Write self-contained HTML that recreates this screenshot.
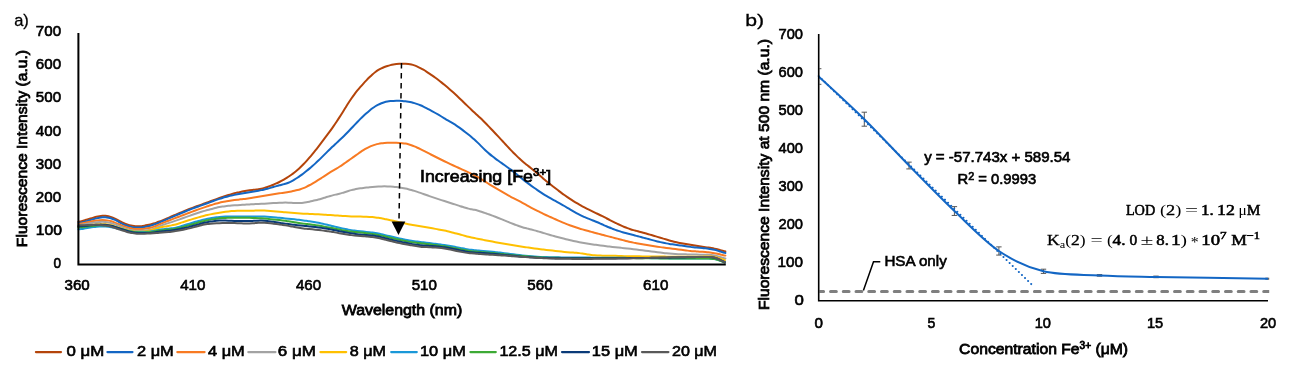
<!DOCTYPE html><html><head><meta charset="utf-8"><style>html,body{margin:0;padding:0;background:#fff;overflow:hidden;}svg{display:block;will-change:transform;}</style></head><body>
<svg xmlns="http://www.w3.org/2000/svg" width="1292" height="372" viewBox="0 0 1292 372">
<rect width="1292" height="372" fill="#fff"/>
<g fill="none" stroke-width="2" stroke-linejoin="round" stroke-linecap="round">
<path d="M78.40 221.78 C78.90 221.68 80.40 221.41 81.40 221.18 C82.40 220.94 83.40 220.65 84.40 220.37 C85.40 220.08 86.40 219.77 87.40 219.47 C88.40 219.17 89.40 218.87 90.40 218.56 C91.40 218.26 92.40 217.95 93.40 217.65 C94.40 217.36 95.40 217.06 96.40 216.80 C97.40 216.54 98.40 216.29 99.40 216.11 C100.40 215.93 101.40 215.79 102.40 215.73 C103.40 215.67 104.40 215.68 105.40 215.76 C106.40 215.85 107.40 216.00 108.40 216.22 C109.40 216.45 110.40 216.74 111.40 217.09 C112.40 217.44 113.40 217.87 114.40 218.33 C115.40 218.79 116.40 219.32 117.40 219.84 C118.40 220.36 119.40 220.94 120.40 221.45 C121.40 221.97 122.40 222.49 123.40 222.95 C124.40 223.41 125.40 223.84 126.40 224.21 C127.40 224.57 128.40 224.89 129.40 225.16 C130.40 225.43 131.40 225.66 132.40 225.83 C133.40 226.00 134.40 226.13 135.40 226.21 C136.40 226.29 137.40 226.32 138.40 226.30 C139.40 226.29 140.40 226.23 141.40 226.13 C142.40 226.03 143.40 225.88 144.40 225.71 C145.40 225.53 146.40 225.32 147.40 225.10 C148.40 224.87 149.40 224.63 150.40 224.37 C151.40 224.11 152.40 223.84 153.40 223.55 C154.40 223.25 155.40 222.95 156.40 222.61 C157.40 222.28 158.40 221.92 159.40 221.55 C160.40 221.17 161.40 220.77 162.40 220.37 C163.40 219.96 164.40 219.54 165.40 219.12 C166.40 218.69 167.40 218.26 168.40 217.83 C169.40 217.41 170.40 216.97 171.40 216.54 C172.40 216.12 173.40 215.69 174.40 215.26 C175.40 214.83 176.40 214.40 177.40 213.97 C178.40 213.55 179.40 213.12 180.40 212.69 C181.40 212.27 182.40 211.84 183.40 211.42 C184.40 211.00 185.40 210.59 186.40 210.18 C187.40 209.77 188.40 209.37 189.40 208.97 C190.40 208.58 191.40 208.20 192.40 207.82 C193.40 207.45 194.40 207.08 195.40 206.72 C196.40 206.35 197.40 206.00 198.40 205.64 C199.40 205.28 200.40 204.93 201.40 204.57 C202.40 204.22 203.40 203.86 204.40 203.50 C205.40 203.14 206.40 202.77 207.40 202.40 C208.40 202.04 209.40 201.66 210.40 201.29 C211.40 200.92 212.40 200.55 213.40 200.18 C214.40 199.82 215.40 199.45 216.40 199.09 C217.40 198.73 218.40 198.38 219.40 198.03 C220.40 197.68 221.40 197.34 222.40 197.00 C223.40 196.66 224.40 196.33 225.40 196.00 C226.40 195.67 227.40 195.35 228.40 195.04 C229.40 194.73 230.40 194.43 231.40 194.14 C232.40 193.85 233.40 193.58 234.40 193.32 C235.40 193.06 236.40 192.82 237.40 192.59 C238.40 192.35 239.40 192.14 240.40 191.93 C241.40 191.73 242.40 191.53 243.40 191.35 C244.40 191.16 245.40 190.98 246.40 190.82 C247.40 190.66 248.40 190.50 249.40 190.36 C250.40 190.23 251.40 190.11 252.40 189.99 C253.40 189.88 254.40 189.79 255.40 189.67 C256.40 189.55 257.40 189.44 258.40 189.28 C259.40 189.11 260.40 188.92 261.40 188.69 C262.40 188.46 263.40 188.18 264.40 187.89 C265.40 187.60 266.40 187.27 267.40 186.93 C268.40 186.60 269.40 186.24 270.40 185.87 C271.40 185.50 272.40 185.12 273.40 184.71 C274.40 184.30 275.40 183.88 276.40 183.43 C277.40 182.98 278.40 182.50 279.40 182.00 C280.40 181.50 281.40 180.97 282.40 180.41 C283.40 179.86 284.40 179.28 285.40 178.68 C286.40 178.07 287.40 177.45 288.40 176.79 C289.40 176.14 290.40 175.46 291.40 174.75 C292.40 174.04 293.40 173.30 294.40 172.52 C295.40 171.73 296.40 170.91 297.40 170.04 C298.40 169.17 299.40 168.25 300.40 167.29 C301.40 166.33 302.40 165.33 303.40 164.29 C304.40 163.26 305.40 162.18 306.40 161.08 C307.40 159.97 308.40 158.83 309.40 157.66 C310.40 156.50 311.40 155.30 312.40 154.08 C313.40 152.87 314.40 151.63 315.40 150.37 C316.40 149.12 317.40 147.85 318.40 146.56 C319.40 145.28 320.40 143.98 321.40 142.66 C322.40 141.35 323.40 140.02 324.40 138.68 C325.40 137.35 326.40 136.00 327.40 134.64 C328.40 133.28 329.40 131.92 330.40 130.54 C331.40 129.16 332.40 127.77 333.40 126.34 C334.40 124.91 335.40 123.46 336.40 121.98 C337.40 120.49 338.40 118.96 339.40 117.41 C340.40 115.86 341.40 114.26 342.40 112.67 C343.40 111.07 344.40 109.44 345.40 107.84 C346.40 106.24 347.40 104.62 348.40 103.07 C349.40 101.52 350.40 99.99 351.40 98.53 C352.40 97.07 353.40 95.67 354.40 94.33 C355.40 92.99 356.40 91.73 357.40 90.49 C358.40 89.26 359.40 88.09 360.40 86.94 C361.40 85.78 362.40 84.68 363.40 83.58 C364.40 82.49 365.40 81.42 366.40 80.37 C367.40 79.32 368.40 78.28 369.40 77.29 C370.40 76.30 371.40 75.31 372.40 74.42 C373.40 73.53 374.40 72.68 375.40 71.93 C376.40 71.18 377.40 70.52 378.40 69.92 C379.40 69.32 380.40 68.81 381.40 68.33 C382.40 67.85 383.40 67.43 384.40 67.03 C385.40 66.63 386.40 66.28 387.40 65.96 C388.40 65.63 389.40 65.35 390.40 65.10 C391.40 64.84 392.40 64.63 393.40 64.45 C394.40 64.27 395.40 64.13 396.40 64.02 C397.40 63.91 398.40 63.84 399.40 63.78 C400.40 63.73 401.40 63.71 402.40 63.71 C403.40 63.71 404.40 63.72 405.40 63.77 C406.40 63.81 407.40 63.88 408.40 64.00 C409.40 64.12 410.40 64.27 411.40 64.49 C412.40 64.71 413.40 64.99 414.40 65.33 C415.40 65.67 416.40 66.09 417.40 66.54 C418.40 66.98 419.40 67.49 420.40 68.02 C421.40 68.55 422.40 69.13 423.40 69.72 C424.40 70.31 425.40 70.93 426.40 71.57 C427.40 72.22 428.40 72.89 429.40 73.57 C430.40 74.25 431.40 74.95 432.40 75.66 C433.40 76.36 434.40 77.08 435.40 77.81 C436.40 78.54 437.40 79.27 438.40 80.03 C439.40 80.79 440.40 81.56 441.40 82.35 C442.40 83.14 443.40 83.95 444.40 84.78 C445.40 85.60 446.40 86.45 447.40 87.30 C448.40 88.16 449.40 89.03 450.40 89.91 C451.40 90.79 452.40 91.69 453.40 92.59 C454.40 93.50 455.40 94.42 456.40 95.34 C457.40 96.27 458.40 97.20 459.40 98.15 C460.40 99.10 461.40 100.06 462.40 101.03 C463.40 101.99 464.40 102.98 465.40 103.96 C466.40 104.93 467.40 105.92 468.40 106.88 C469.40 107.84 470.40 108.78 471.40 109.71 C472.40 110.64 473.40 111.55 474.40 112.46 C475.40 113.37 476.40 114.27 477.40 115.20 C478.40 116.12 479.40 117.06 480.40 118.02 C481.40 118.98 482.40 119.97 483.40 120.97 C484.40 121.98 485.40 123.01 486.40 124.04 C487.40 125.07 488.40 126.12 489.40 127.16 C490.40 128.20 491.40 129.25 492.40 130.29 C493.40 131.34 494.40 132.39 495.40 133.45 C496.40 134.50 497.40 135.56 498.40 136.63 C499.40 137.70 500.40 138.78 501.40 139.86 C502.40 140.95 503.40 142.05 504.40 143.14 C505.40 144.23 506.40 145.33 507.40 146.41 C508.40 147.49 509.40 148.57 510.40 149.61 C511.40 150.66 512.40 151.69 513.40 152.70 C514.40 153.70 515.40 154.69 516.40 155.65 C517.40 156.61 518.40 157.55 519.40 158.47 C520.40 159.38 521.40 160.28 522.40 161.14 C523.40 162.01 524.40 162.85 525.40 163.67 C526.40 164.50 527.40 165.29 528.40 166.10 C529.40 166.90 530.40 167.69 531.40 168.50 C532.40 169.31 533.40 170.12 534.40 170.95 C535.40 171.79 536.40 172.64 537.40 173.50 C538.40 174.36 539.40 175.24 540.40 176.10 C541.40 176.97 542.40 177.84 543.40 178.69 C544.40 179.53 545.40 180.36 546.40 181.17 C547.40 181.98 548.40 182.77 549.40 183.57 C550.40 184.36 551.40 185.14 552.40 185.93 C553.40 186.71 554.40 187.50 555.40 188.27 C556.40 189.05 557.40 189.82 558.40 190.58 C559.40 191.34 560.40 192.10 561.40 192.83 C562.40 193.57 563.40 194.30 564.40 195.01 C565.40 195.72 566.40 196.42 567.40 197.11 C568.40 197.80 569.40 198.48 570.40 199.15 C571.40 199.81 572.40 200.46 573.40 201.09 C574.40 201.72 575.40 202.34 576.40 202.94 C577.40 203.54 578.40 204.12 579.40 204.69 C580.40 205.26 581.40 205.82 582.40 206.37 C583.40 206.91 584.40 207.44 585.40 207.96 C586.40 208.48 587.40 208.97 588.40 209.46 C589.40 209.95 590.40 210.42 591.40 210.90 C592.40 211.37 593.40 211.84 594.40 212.31 C595.40 212.79 596.40 213.27 597.40 213.75 C598.40 214.24 599.40 214.73 600.40 215.23 C601.40 215.72 602.40 216.23 603.40 216.73 C604.40 217.23 605.40 217.74 606.40 218.25 C607.40 218.75 608.40 219.26 609.40 219.77 C610.40 220.28 611.40 220.79 612.40 221.29 C613.40 221.79 614.40 222.30 615.40 222.79 C616.40 223.28 617.40 223.78 618.40 224.25 C619.40 224.73 620.40 225.20 621.40 225.66 C622.40 226.11 623.40 226.55 624.40 226.97 C625.40 227.39 626.40 227.79 627.40 228.17 C628.40 228.54 629.40 228.89 630.40 229.21 C631.40 229.53 632.40 229.82 633.40 230.10 C634.40 230.39 635.40 230.64 636.40 230.90 C637.40 231.16 638.40 231.41 639.40 231.67 C640.40 231.94 641.40 232.20 642.40 232.48 C643.40 232.75 644.40 233.04 645.40 233.32 C646.40 233.61 647.40 233.90 648.40 234.19 C649.40 234.48 650.40 234.78 651.40 235.07 C652.40 235.37 653.40 235.66 654.40 235.96 C655.40 236.25 656.40 236.55 657.40 236.84 C658.40 237.14 659.40 237.44 660.40 237.74 C661.40 238.04 662.40 238.34 663.40 238.64 C664.40 238.94 665.40 239.24 666.40 239.54 C667.40 239.84 668.40 240.14 669.40 240.43 C670.40 240.72 671.40 241.01 672.40 241.28 C673.40 241.55 674.40 241.81 675.40 242.05 C676.40 242.29 677.40 242.51 678.40 242.73 C679.40 242.94 680.40 243.13 681.40 243.32 C682.40 243.50 683.40 243.68 684.40 243.85 C685.40 244.02 686.40 244.18 687.40 244.35 C688.40 244.51 689.40 244.67 690.40 244.83 C691.40 244.99 692.40 245.15 693.40 245.31 C694.40 245.47 695.40 245.62 696.40 245.78 C697.40 245.93 698.40 246.09 699.40 246.24 C700.40 246.39 701.40 246.53 702.40 246.68 C703.40 246.83 704.40 246.97 705.40 247.12 C706.40 247.26 707.40 247.41 708.40 247.57 C709.40 247.73 710.40 247.89 711.40 248.07 C712.40 248.25 713.40 248.43 714.40 248.65 C715.40 248.86 716.40 249.08 717.40 249.33 C718.40 249.58 719.40 249.87 720.40 250.13 C721.40 250.40 722.57 250.73 723.40 250.94 C724.23 251.14 725.07 251.29 725.40 251.36" stroke="#B4440A"/>
<path d="M78.40 222.94 C78.90 222.85 80.40 222.62 81.40 222.42 C82.40 222.21 83.40 221.96 84.40 221.71 C85.40 221.46 86.40 221.18 87.40 220.91 C88.40 220.63 89.40 220.35 90.40 220.06 C91.40 219.78 92.40 219.47 93.40 219.19 C94.40 218.90 95.40 218.60 96.40 218.35 C97.40 218.09 98.40 217.83 99.40 217.65 C100.40 217.47 101.40 217.32 102.40 217.26 C103.40 217.19 104.40 217.19 105.40 217.26 C106.40 217.32 107.40 217.46 108.40 217.67 C109.40 217.87 110.40 218.15 111.40 218.48 C112.40 218.81 113.40 219.23 114.40 219.67 C115.40 220.12 116.40 220.64 117.40 221.16 C118.40 221.67 119.40 222.25 120.40 222.77 C121.40 223.29 122.40 223.83 123.40 224.29 C124.40 224.76 125.40 225.19 126.40 225.56 C127.40 225.93 128.40 226.25 129.40 226.51 C130.40 226.78 131.40 226.98 132.40 227.15 C133.40 227.32 134.40 227.44 135.40 227.51 C136.40 227.59 137.40 227.62 138.40 227.60 C139.40 227.59 140.40 227.53 141.40 227.43 C142.40 227.33 143.40 227.18 144.40 227.01 C145.40 226.83 146.40 226.62 147.40 226.40 C148.40 226.17 149.40 225.93 150.40 225.66 C151.40 225.38 152.40 225.09 153.40 224.77 C154.40 224.45 155.40 224.09 156.40 223.72 C157.40 223.34 158.40 222.93 159.40 222.52 C160.40 222.11 161.40 221.68 162.40 221.26 C163.40 220.83 164.40 220.39 165.40 219.96 C166.40 219.53 167.40 219.09 168.40 218.66 C169.40 218.22 170.40 217.79 171.40 217.36 C172.40 216.92 173.40 216.49 174.40 216.06 C175.40 215.63 176.40 215.20 177.40 214.77 C178.40 214.34 179.40 213.91 180.40 213.49 C181.40 213.06 182.40 212.64 183.40 212.22 C184.40 211.80 185.40 211.38 186.40 210.97 C187.40 210.57 188.40 210.17 189.40 209.77 C190.40 209.38 191.40 209.00 192.40 208.62 C193.40 208.25 194.40 207.88 195.40 207.52 C196.40 207.15 197.40 206.80 198.40 206.44 C199.40 206.08 200.40 205.73 201.40 205.37 C202.40 205.02 203.40 204.66 204.40 204.29 C205.40 203.93 206.40 203.56 207.40 203.19 C208.40 202.82 209.40 202.44 210.40 202.06 C211.40 201.69 212.40 201.31 213.40 200.94 C214.40 200.58 215.40 200.21 216.40 199.86 C217.40 199.52 218.40 199.18 219.40 198.85 C220.40 198.53 221.40 198.22 222.40 197.92 C223.40 197.63 224.40 197.34 225.40 197.07 C226.40 196.79 227.40 196.53 228.40 196.28 C229.40 196.02 230.40 195.78 231.40 195.55 C232.40 195.31 233.40 195.09 234.40 194.87 C235.40 194.66 236.40 194.45 237.40 194.25 C238.40 194.06 239.40 193.87 240.40 193.69 C241.40 193.51 242.40 193.34 243.40 193.18 C244.40 193.01 245.40 192.85 246.40 192.68 C247.40 192.52 248.40 192.36 249.40 192.20 C250.40 192.04 251.40 191.89 252.40 191.73 C253.40 191.57 254.40 191.41 255.40 191.25 C256.40 191.08 257.40 190.91 258.40 190.73 C259.40 190.54 260.40 190.35 261.40 190.14 C262.40 189.93 263.40 189.70 264.40 189.47 C265.40 189.23 266.40 188.98 267.40 188.71 C268.40 188.45 269.40 188.17 270.40 187.88 C271.40 187.59 272.40 187.29 273.40 186.99 C274.40 186.70 275.40 186.39 276.40 186.11 C277.40 185.82 278.40 185.55 279.40 185.29 C280.40 185.03 281.40 184.80 282.40 184.54 C283.40 184.28 284.40 184.04 285.40 183.74 C286.40 183.43 287.40 183.11 288.40 182.71 C289.40 182.31 290.40 181.86 291.40 181.35 C292.40 180.85 293.40 180.28 294.40 179.68 C295.40 179.08 296.40 178.42 297.40 177.75 C298.40 177.08 299.40 176.37 300.40 175.65 C301.40 174.93 302.40 174.19 303.40 173.43 C304.40 172.67 305.40 171.89 306.40 171.09 C307.40 170.29 308.40 169.47 309.40 168.63 C310.40 167.80 311.40 166.94 312.40 166.07 C313.40 165.19 314.40 164.30 315.40 163.38 C316.40 162.47 317.40 161.53 318.40 160.58 C319.40 159.62 320.40 158.63 321.40 157.64 C322.40 156.65 323.40 155.64 324.40 154.64 C325.40 153.64 326.40 152.63 327.40 151.65 C328.40 150.66 329.40 149.69 330.40 148.73 C331.40 147.77 332.40 146.84 333.40 145.90 C334.40 144.96 335.40 144.04 336.40 143.11 C337.40 142.17 338.40 141.25 339.40 140.31 C340.40 139.37 341.40 138.42 342.40 137.46 C343.40 136.49 344.40 135.51 345.40 134.51 C346.40 133.51 347.40 132.48 348.40 131.45 C349.40 130.41 350.40 129.35 351.40 128.29 C352.40 127.24 353.40 126.16 354.40 125.11 C355.40 124.05 356.40 122.99 357.40 121.95 C358.40 120.92 359.40 119.90 360.40 118.90 C361.40 117.91 362.40 116.95 363.40 116.01 C364.40 115.07 365.40 114.15 366.40 113.26 C367.40 112.38 368.40 111.51 369.40 110.68 C370.40 109.85 371.40 109.04 372.40 108.31 C373.40 107.57 374.40 106.87 375.40 106.25 C376.40 105.63 377.40 105.07 378.40 104.57 C379.40 104.06 380.40 103.62 381.40 103.22 C382.40 102.82 383.40 102.47 384.40 102.19 C385.40 101.90 386.40 101.68 387.40 101.50 C388.40 101.32 389.40 101.21 390.40 101.12 C391.40 101.02 392.40 100.97 393.40 100.91 C394.40 100.86 395.40 100.83 396.40 100.81 C397.40 100.79 398.40 100.78 399.40 100.81 C400.40 100.83 401.40 100.88 402.40 100.95 C403.40 101.03 404.40 101.14 405.40 101.27 C406.40 101.40 407.40 101.56 408.40 101.74 C409.40 101.92 410.40 102.11 411.40 102.34 C412.40 102.57 413.40 102.82 414.40 103.11 C415.40 103.40 416.40 103.72 417.40 104.07 C418.40 104.42 419.40 104.81 420.40 105.23 C421.40 105.64 422.40 106.10 423.40 106.58 C424.40 107.05 425.40 107.56 426.40 108.08 C427.40 108.60 428.40 109.14 429.40 109.68 C430.40 110.22 431.40 110.77 432.40 111.32 C433.40 111.87 434.40 112.43 435.40 113.00 C436.40 113.56 437.40 114.13 438.40 114.71 C439.40 115.30 440.40 115.89 441.40 116.49 C442.40 117.09 443.40 117.70 444.40 118.31 C445.40 118.92 446.40 119.55 447.40 120.15 C448.40 120.75 449.40 121.35 450.40 121.94 C451.40 122.53 452.40 123.09 453.40 123.69 C454.40 124.29 455.40 124.89 456.40 125.54 C457.40 126.19 458.40 126.88 459.40 127.59 C460.40 128.31 461.40 129.07 462.40 129.84 C463.40 130.60 464.40 131.39 465.40 132.18 C466.40 132.97 467.40 133.77 468.40 134.58 C469.40 135.38 470.40 136.19 471.40 137.03 C472.40 137.87 473.40 138.72 474.40 139.61 C475.40 140.50 476.40 141.42 477.40 142.38 C478.40 143.33 479.40 144.34 480.40 145.34 C481.40 146.33 482.40 147.36 483.40 148.35 C484.40 149.33 485.40 150.30 486.40 151.22 C487.40 152.14 488.40 153.02 489.40 153.87 C490.40 154.71 491.40 155.51 492.40 156.30 C493.40 157.09 494.40 157.84 495.40 158.58 C496.40 159.33 497.40 160.05 498.40 160.77 C499.40 161.49 500.40 162.19 501.40 162.90 C502.40 163.62 503.40 164.32 504.40 165.03 C505.40 165.75 506.40 166.46 507.40 167.19 C508.40 167.92 509.40 168.65 510.40 169.40 C511.40 170.16 512.40 170.92 513.40 171.70 C514.40 172.48 515.40 173.27 516.40 174.08 C517.40 174.89 518.40 175.72 519.40 176.54 C520.40 177.35 521.40 178.18 522.40 178.99 C523.40 179.80 524.40 180.59 525.40 181.37 C526.40 182.15 527.40 182.91 528.40 183.66 C529.40 184.41 530.40 185.14 531.40 185.86 C532.40 186.58 533.40 187.29 534.40 187.99 C535.40 188.69 536.40 189.37 537.40 190.05 C538.40 190.73 539.40 191.40 540.40 192.07 C541.40 192.73 542.40 193.39 543.40 194.04 C544.40 194.68 545.40 195.31 546.40 195.92 C547.40 196.53 548.40 197.13 549.40 197.70 C550.40 198.28 551.40 198.83 552.40 199.37 C553.40 199.92 554.40 200.45 555.40 200.98 C556.40 201.52 557.40 202.05 558.40 202.59 C559.40 203.14 560.40 203.69 561.40 204.26 C562.40 204.83 563.40 205.42 564.40 206.01 C565.40 206.60 566.40 207.20 567.40 207.80 C568.40 208.39 569.40 209.00 570.40 209.59 C571.40 210.18 572.40 210.77 573.40 211.35 C574.40 211.93 575.40 212.51 576.40 213.06 C577.40 213.61 578.40 214.15 579.40 214.67 C580.40 215.18 581.40 215.66 582.40 216.13 C583.40 216.59 584.40 217.03 585.40 217.45 C586.40 217.88 587.40 218.28 588.40 218.69 C589.40 219.09 590.40 219.48 591.40 219.87 C592.40 220.27 593.40 220.65 594.40 221.05 C595.40 221.46 596.40 221.86 597.40 222.28 C598.40 222.70 599.40 223.14 600.40 223.58 C601.40 224.03 602.40 224.50 603.40 224.95 C604.40 225.40 605.40 225.86 606.40 226.29 C607.40 226.73 608.40 227.15 609.40 227.55 C610.40 227.96 611.40 228.34 612.40 228.73 C613.40 229.11 614.40 229.48 615.40 229.84 C616.40 230.20 617.40 230.56 618.40 230.90 C619.40 231.23 620.40 231.56 621.40 231.87 C622.40 232.18 623.40 232.46 624.40 232.74 C625.40 233.02 626.40 233.28 627.40 233.54 C628.40 233.80 629.40 234.06 630.40 234.31 C631.40 234.57 632.40 234.83 633.40 235.08 C634.40 235.34 635.40 235.60 636.40 235.86 C637.40 236.12 638.40 236.38 639.40 236.64 C640.40 236.91 641.40 237.17 642.40 237.44 C643.40 237.71 644.40 237.98 645.40 238.25 C646.40 238.52 647.40 238.79 648.40 239.06 C649.40 239.33 650.40 239.60 651.40 239.86 C652.40 240.13 653.40 240.39 654.40 240.65 C655.40 240.91 656.40 241.16 657.40 241.41 C658.40 241.66 659.40 241.90 660.40 242.13 C661.40 242.35 662.40 242.57 663.40 242.78 C664.40 242.99 665.40 243.18 666.40 243.37 C667.40 243.55 668.40 243.73 669.40 243.89 C670.40 244.06 671.40 244.21 672.40 244.36 C673.40 244.50 674.40 244.63 675.40 244.77 C676.40 244.90 677.40 245.02 678.40 245.15 C679.40 245.28 680.40 245.41 681.40 245.56 C682.40 245.70 683.40 245.85 684.40 246.01 C685.40 246.16 686.40 246.31 687.40 246.46 C688.40 246.60 689.40 246.74 690.40 246.87 C691.40 247.00 692.40 247.11 693.40 247.22 C694.40 247.33 695.40 247.43 696.40 247.52 C697.40 247.62 698.40 247.71 699.40 247.80 C700.40 247.89 701.40 247.98 702.40 248.07 C703.40 248.16 704.40 248.24 705.40 248.35 C706.40 248.45 707.40 248.55 708.40 248.69 C709.40 248.82 710.40 248.98 711.40 249.16 C712.40 249.35 713.40 249.57 714.40 249.81 C715.40 250.06 716.40 250.34 717.40 250.63 C718.40 250.92 719.40 251.25 720.40 251.56 C721.40 251.86 722.57 252.23 723.40 252.45 C724.23 252.68 725.07 252.84 725.40 252.92" stroke="#1366C4"/>
<path d="M78.40 223.99 C78.90 223.92 80.40 223.72 81.40 223.55 C82.40 223.38 83.40 223.17 84.40 222.97 C85.40 222.76 86.40 222.55 87.40 222.33 C88.40 222.12 89.40 221.91 90.40 221.70 C91.40 221.49 92.40 221.27 93.40 221.09 C94.40 220.90 95.40 220.71 96.40 220.56 C97.40 220.42 98.40 220.29 99.40 220.22 C100.40 220.14 101.40 220.09 102.40 220.09 C103.40 220.09 104.40 220.13 105.40 220.22 C106.40 220.31 107.40 220.43 108.40 220.62 C109.40 220.80 110.40 221.04 111.40 221.33 C112.40 221.62 113.40 221.98 114.40 222.36 C115.40 222.73 116.40 223.17 117.40 223.59 C118.40 224.01 119.40 224.45 120.40 224.86 C121.40 225.28 122.40 225.69 123.40 226.07 C124.40 226.45 125.40 226.81 126.40 227.14 C127.40 227.47 128.40 227.79 129.40 228.04 C130.40 228.30 131.40 228.52 132.40 228.68 C133.40 228.84 134.40 228.95 135.40 229.02 C136.40 229.09 137.40 229.10 138.40 229.09 C139.40 229.08 140.40 229.02 141.40 228.95 C142.40 228.88 143.40 228.79 144.40 228.67 C145.40 228.55 146.40 228.42 147.40 228.25 C148.40 228.09 149.40 227.90 150.40 227.67 C151.40 227.43 152.40 227.16 153.40 226.83 C154.40 226.50 155.40 226.10 156.40 225.70 C157.40 225.29 158.40 224.82 159.40 224.39 C160.40 223.95 161.40 223.51 162.40 223.10 C163.40 222.68 164.40 222.28 165.40 221.88 C166.40 221.49 167.40 221.11 168.40 220.72 C169.40 220.34 170.40 219.96 171.40 219.57 C172.40 219.19 173.40 218.81 174.40 218.43 C175.40 218.04 176.40 217.66 177.40 217.28 C178.40 216.90 179.40 216.51 180.40 216.13 C181.40 215.75 182.40 215.37 183.40 214.99 C184.40 214.61 185.40 214.23 186.40 213.85 C187.40 213.48 188.40 213.10 189.40 212.73 C190.40 212.36 191.40 211.98 192.40 211.61 C193.40 211.24 194.40 210.88 195.40 210.51 C196.40 210.14 197.40 209.78 198.40 209.42 C199.40 209.06 200.40 208.71 201.40 208.36 C202.40 208.01 203.40 207.66 204.40 207.32 C205.40 206.98 206.40 206.64 207.40 206.31 C208.40 205.98 209.40 205.64 210.40 205.32 C211.40 205.00 212.40 204.68 213.40 204.38 C214.40 204.08 215.40 203.78 216.40 203.51 C217.40 203.23 218.40 202.97 219.40 202.72 C220.40 202.48 221.40 202.26 222.40 202.05 C223.40 201.84 224.40 201.65 225.40 201.47 C226.40 201.29 227.40 201.13 228.40 200.97 C229.40 200.81 230.40 200.66 231.40 200.52 C232.40 200.38 233.40 200.24 234.40 200.10 C235.40 199.97 236.40 199.84 237.40 199.72 C238.40 199.59 239.40 199.48 240.40 199.36 C241.40 199.24 242.40 199.13 243.40 199.01 C244.40 198.90 245.40 198.78 246.40 198.65 C247.40 198.52 248.40 198.39 249.40 198.25 C250.40 198.10 251.40 197.95 252.40 197.78 C253.40 197.62 254.40 197.45 255.40 197.28 C256.40 197.11 257.40 196.92 258.40 196.75 C259.40 196.57 260.40 196.38 261.40 196.20 C262.40 196.02 263.40 195.84 264.40 195.67 C265.40 195.49 266.40 195.32 267.40 195.15 C268.40 194.99 269.40 194.83 270.40 194.67 C271.40 194.51 272.40 194.36 273.40 194.21 C274.40 194.07 275.40 193.92 276.40 193.78 C277.40 193.63 278.40 193.49 279.40 193.35 C280.40 193.20 281.40 193.06 282.40 192.91 C283.40 192.76 284.40 192.61 285.40 192.45 C286.40 192.29 287.40 192.13 288.40 191.95 C289.40 191.78 290.40 191.60 291.40 191.41 C292.40 191.22 293.40 191.02 294.40 190.80 C295.40 190.58 296.40 190.36 297.40 190.09 C298.40 189.83 299.40 189.55 300.40 189.22 C301.40 188.89 302.40 188.53 303.40 188.12 C304.40 187.72 305.40 187.27 306.40 186.79 C307.40 186.31 308.40 185.79 309.40 185.25 C310.40 184.71 311.40 184.14 312.40 183.56 C313.40 182.98 314.40 182.38 315.40 181.78 C316.40 181.17 317.40 180.55 318.40 179.93 C319.40 179.30 320.40 178.66 321.40 178.02 C322.40 177.37 323.40 176.72 324.40 176.07 C325.40 175.41 326.40 174.76 327.40 174.11 C328.40 173.47 329.40 172.84 330.40 172.21 C331.40 171.59 332.40 170.99 333.40 170.39 C334.40 169.79 335.40 169.21 336.40 168.60 C337.40 168.00 338.40 167.39 339.40 166.76 C340.40 166.12 341.40 165.47 342.40 164.80 C343.40 164.12 344.40 163.42 345.40 162.73 C346.40 162.03 347.40 161.31 348.40 160.61 C349.40 159.90 350.40 159.20 351.40 158.49 C352.40 157.79 353.40 157.08 354.40 156.38 C355.40 155.67 356.40 154.95 357.40 154.25 C358.40 153.55 359.40 152.83 360.40 152.15 C361.40 151.47 362.40 150.80 363.40 150.18 C364.40 149.55 365.40 148.96 366.40 148.41 C367.40 147.87 368.40 147.36 369.40 146.90 C370.40 146.44 371.40 146.02 372.40 145.65 C373.40 145.27 374.40 144.95 375.40 144.65 C376.40 144.36 377.40 144.11 378.40 143.89 C379.40 143.67 380.40 143.49 381.40 143.33 C382.40 143.17 383.40 143.05 384.40 142.95 C385.40 142.85 386.40 142.78 387.40 142.73 C388.40 142.68 389.40 142.65 390.40 142.64 C391.40 142.63 392.40 142.64 393.40 142.66 C394.40 142.68 395.40 142.71 396.40 142.75 C397.40 142.79 398.40 142.84 399.40 142.91 C400.40 142.97 401.40 143.04 402.40 143.15 C403.40 143.26 404.40 143.38 405.40 143.56 C406.40 143.74 407.40 143.96 408.40 144.23 C409.40 144.50 410.40 144.83 411.40 145.20 C412.40 145.56 413.40 145.98 414.40 146.40 C415.40 146.83 416.40 147.29 417.40 147.76 C418.40 148.23 419.40 148.72 420.40 149.21 C421.40 149.70 422.40 150.20 423.40 150.70 C424.40 151.20 425.40 151.71 426.40 152.21 C427.40 152.72 428.40 153.22 429.40 153.73 C430.40 154.23 431.40 154.74 432.40 155.24 C433.40 155.75 434.40 156.25 435.40 156.75 C436.40 157.25 437.40 157.75 438.40 158.25 C439.40 158.75 440.40 159.25 441.40 159.75 C442.40 160.25 443.40 160.74 444.40 161.23 C445.40 161.72 446.40 162.21 447.40 162.69 C448.40 163.17 449.40 163.64 450.40 164.10 C451.40 164.57 452.40 165.03 453.40 165.48 C454.40 165.94 455.40 166.40 456.40 166.85 C457.40 167.31 458.40 167.76 459.40 168.22 C460.40 168.68 461.40 169.13 462.40 169.59 C463.40 170.04 464.40 170.49 465.40 170.95 C466.40 171.41 467.40 171.86 468.40 172.33 C469.40 172.80 470.40 173.27 471.40 173.77 C472.40 174.26 473.40 174.76 474.40 175.28 C475.40 175.81 476.40 176.35 477.40 176.92 C478.40 177.48 479.40 178.07 480.40 178.67 C481.40 179.27 482.40 179.89 483.40 180.51 C484.40 181.13 485.40 181.77 486.40 182.39 C487.40 183.02 488.40 183.66 489.40 184.28 C490.40 184.90 491.40 185.52 492.40 186.13 C493.40 186.74 494.40 187.34 495.40 187.94 C496.40 188.54 497.40 189.13 498.40 189.72 C499.40 190.31 500.40 190.90 501.40 191.48 C502.40 192.06 503.40 192.64 504.40 193.21 C505.40 193.78 506.40 194.35 507.40 194.90 C508.40 195.45 509.40 196.00 510.40 196.53 C511.40 197.07 512.40 197.59 513.40 198.11 C514.40 198.63 515.40 199.14 516.40 199.66 C517.40 200.18 518.40 200.70 519.40 201.23 C520.40 201.75 521.40 202.29 522.40 202.84 C523.40 203.38 524.40 203.93 525.40 204.48 C526.40 205.03 527.40 205.59 528.40 206.14 C529.40 206.69 530.40 207.24 531.40 207.78 C532.40 208.32 533.40 208.85 534.40 209.38 C535.40 209.90 536.40 210.41 537.40 210.91 C538.40 211.41 539.40 211.91 540.40 212.39 C541.40 212.88 542.40 213.35 543.40 213.82 C544.40 214.29 545.40 214.76 546.40 215.22 C547.40 215.68 548.40 216.13 549.40 216.59 C550.40 217.04 551.40 217.49 552.40 217.94 C553.40 218.38 554.40 218.83 555.40 219.27 C556.40 219.72 557.40 220.16 558.40 220.59 C559.40 221.03 560.40 221.46 561.40 221.89 C562.40 222.31 563.40 222.74 564.40 223.15 C565.40 223.56 566.40 223.97 567.40 224.36 C568.40 224.75 569.40 225.13 570.40 225.50 C571.40 225.87 572.40 226.23 573.40 226.57 C574.40 226.91 575.40 227.24 576.40 227.56 C577.40 227.88 578.40 228.19 579.40 228.49 C580.40 228.80 581.40 229.09 582.40 229.38 C583.40 229.67 584.40 229.95 585.40 230.23 C586.40 230.51 587.40 230.78 588.40 231.05 C589.40 231.32 590.40 231.59 591.40 231.86 C592.40 232.13 593.40 232.40 594.40 232.67 C595.40 232.94 596.40 233.21 597.40 233.48 C598.40 233.75 599.40 234.01 600.40 234.28 C601.40 234.55 602.40 234.81 603.40 235.08 C604.40 235.34 605.40 235.60 606.40 235.86 C607.40 236.12 608.40 236.38 609.40 236.63 C610.40 236.89 611.40 237.14 612.40 237.40 C613.40 237.65 614.40 237.90 615.40 238.16 C616.40 238.41 617.40 238.67 618.40 238.93 C619.40 239.19 620.40 239.45 621.40 239.72 C622.40 239.98 623.40 240.26 624.40 240.52 C625.40 240.79 626.40 241.05 627.40 241.30 C628.40 241.55 629.40 241.79 630.40 242.00 C631.40 242.22 632.40 242.42 633.40 242.61 C634.40 242.81 635.40 242.98 636.40 243.16 C637.40 243.33 638.40 243.50 639.40 243.67 C640.40 243.85 641.40 244.02 642.40 244.20 C643.40 244.37 644.40 244.55 645.40 244.73 C646.40 244.90 647.40 245.08 648.40 245.25 C649.40 245.43 650.40 245.60 651.40 245.76 C652.40 245.92 653.40 246.08 654.40 246.24 C655.40 246.39 656.40 246.54 657.40 246.69 C658.40 246.84 659.40 246.98 660.40 247.12 C661.40 247.27 662.40 247.41 663.40 247.54 C664.40 247.68 665.40 247.81 666.40 247.95 C667.40 248.08 668.40 248.21 669.40 248.34 C670.40 248.46 671.40 248.59 672.40 248.71 C673.40 248.83 674.40 248.95 675.40 249.07 C676.40 249.19 677.40 249.31 678.40 249.43 C679.40 249.56 680.40 249.69 681.40 249.82 C682.40 249.95 683.40 250.09 684.40 250.22 C685.40 250.36 686.40 250.50 687.40 250.62 C688.40 250.74 689.40 250.86 690.40 250.96 C691.40 251.06 692.40 251.15 693.40 251.23 C694.40 251.31 695.40 251.37 696.40 251.44 C697.40 251.51 698.40 251.57 699.40 251.64 C700.40 251.71 701.40 251.77 702.40 251.84 C703.40 251.91 704.40 251.98 705.40 252.06 C706.40 252.14 707.40 252.22 708.40 252.32 C709.40 252.43 710.40 252.54 711.40 252.68 C712.40 252.81 713.40 252.97 714.40 253.15 C715.40 253.33 716.40 253.53 717.40 253.76 C718.40 253.98 719.40 254.24 720.40 254.49 C721.40 254.73 722.57 255.03 723.40 255.22 C724.23 255.41 725.07 255.54 725.40 255.61" stroke="#F87A22"/>
<path d="M78.40 224.98 C78.90 224.92 80.40 224.78 81.40 224.66 C82.40 224.53 83.40 224.38 84.40 224.23 C85.40 224.07 86.40 223.91 87.40 223.74 C88.40 223.57 89.40 223.39 90.40 223.21 C91.40 223.04 92.40 222.85 93.40 222.68 C94.40 222.52 95.40 222.34 96.40 222.21 C97.40 222.09 98.40 221.97 99.40 221.91 C100.40 221.84 101.40 221.81 102.40 221.83 C103.40 221.84 104.40 221.89 105.40 221.98 C106.40 222.08 107.40 222.21 108.40 222.40 C109.40 222.58 110.40 222.82 111.40 223.10 C112.40 223.38 113.40 223.73 114.40 224.09 C115.40 224.45 116.40 224.87 117.40 225.27 C118.40 225.67 119.40 226.10 120.40 226.50 C121.40 226.90 122.40 227.29 123.40 227.67 C124.40 228.04 125.40 228.41 126.40 228.73 C127.40 229.06 128.40 229.38 129.40 229.63 C130.40 229.89 131.40 230.11 132.40 230.28 C133.40 230.45 134.40 230.56 135.40 230.63 C136.40 230.71 137.40 230.73 138.40 230.73 C139.40 230.73 140.40 230.69 141.40 230.65 C142.40 230.60 143.40 230.54 144.40 230.46 C145.40 230.37 146.40 230.29 147.40 230.16 C148.40 230.03 149.40 229.90 150.40 229.69 C151.40 229.48 152.40 229.23 153.40 228.91 C154.40 228.58 155.40 228.16 156.40 227.74 C157.40 227.32 158.40 226.83 159.40 226.40 C160.40 225.97 161.40 225.55 162.40 225.17 C163.40 224.79 164.40 224.45 165.40 224.11 C166.40 223.77 167.40 223.45 168.40 223.13 C169.40 222.80 170.40 222.49 171.40 222.16 C172.40 221.83 173.40 221.51 174.40 221.17 C175.40 220.83 176.40 220.48 177.40 220.13 C178.40 219.78 179.40 219.42 180.40 219.06 C181.40 218.70 182.40 218.33 183.40 217.97 C184.40 217.61 185.40 217.25 186.40 216.89 C187.40 216.53 188.40 216.18 189.40 215.83 C190.40 215.48 191.40 215.13 192.40 214.79 C193.40 214.44 194.40 214.10 195.40 213.77 C196.40 213.43 197.40 213.10 198.40 212.78 C199.40 212.45 200.40 212.13 201.40 211.82 C202.40 211.51 203.40 211.20 204.40 210.90 C205.40 210.61 206.40 210.31 207.40 210.03 C208.40 209.74 209.40 209.46 210.40 209.19 C211.40 208.92 212.40 208.66 213.40 208.41 C214.40 208.16 215.40 207.92 216.40 207.70 C217.40 207.48 218.40 207.28 219.40 207.09 C220.40 206.91 221.40 206.74 222.40 206.59 C223.40 206.44 224.40 206.31 225.40 206.19 C226.40 206.07 227.40 205.97 228.40 205.87 C229.40 205.77 230.40 205.68 231.40 205.60 C232.40 205.51 233.40 205.43 234.40 205.36 C235.40 205.28 236.40 205.21 237.40 205.14 C238.40 205.07 239.40 205.00 240.40 204.94 C241.40 204.87 242.40 204.82 243.40 204.76 C244.40 204.70 245.40 204.65 246.40 204.59 C247.40 204.54 248.40 204.49 249.40 204.43 C250.40 204.38 251.40 204.32 252.40 204.27 C253.40 204.22 254.40 204.16 255.40 204.11 C256.40 204.06 257.40 204.01 258.40 203.96 C259.40 203.90 260.40 203.85 261.40 203.80 C262.40 203.75 263.40 203.69 264.40 203.64 C265.40 203.58 266.40 203.52 267.40 203.47 C268.40 203.41 269.40 203.35 270.40 203.29 C271.40 203.23 272.40 203.17 273.40 203.11 C274.40 203.05 275.40 202.99 276.40 202.94 C277.40 202.88 278.40 202.83 279.40 202.78 C280.40 202.74 281.40 202.69 282.40 202.66 C283.40 202.63 284.40 202.60 285.40 202.59 C286.40 202.59 287.40 202.60 288.40 202.63 C289.40 202.66 290.40 202.72 291.40 202.78 C292.40 202.83 293.40 202.92 294.40 202.98 C295.40 203.03 296.40 203.08 297.40 203.09 C298.40 203.09 299.40 203.07 300.40 203.01 C301.40 202.94 302.40 202.84 303.40 202.71 C304.40 202.59 305.40 202.43 306.40 202.26 C307.40 202.09 308.40 201.89 309.40 201.69 C310.40 201.49 311.40 201.27 312.40 201.04 C313.40 200.81 314.40 200.57 315.40 200.32 C316.40 200.07 317.40 199.81 318.40 199.53 C319.40 199.26 320.40 198.97 321.40 198.67 C322.40 198.37 323.40 198.06 324.40 197.75 C325.40 197.44 326.40 197.12 327.40 196.82 C328.40 196.52 329.40 196.21 330.40 195.93 C331.40 195.65 332.40 195.39 333.40 195.14 C334.40 194.89 335.40 194.67 336.40 194.44 C337.40 194.20 338.40 193.98 339.40 193.72 C340.40 193.47 341.40 193.19 342.40 192.90 C343.40 192.61 344.40 192.29 345.40 191.98 C346.40 191.67 347.40 191.35 348.40 191.04 C349.40 190.74 350.40 190.44 351.40 190.16 C352.40 189.89 353.40 189.64 354.40 189.41 C355.40 189.18 356.40 188.98 357.40 188.80 C358.40 188.61 359.40 188.46 360.40 188.32 C361.40 188.17 362.40 188.05 363.40 187.94 C364.40 187.82 365.40 187.72 366.40 187.62 C367.40 187.51 368.40 187.42 369.40 187.32 C370.40 187.22 371.40 187.13 372.40 187.04 C373.40 186.95 374.40 186.86 375.40 186.78 C376.40 186.70 377.40 186.63 378.40 186.57 C379.40 186.51 380.40 186.46 381.40 186.42 C382.40 186.39 383.40 186.37 384.40 186.36 C385.40 186.36 386.40 186.37 387.40 186.39 C388.40 186.41 389.40 186.45 390.40 186.50 C391.40 186.56 392.40 186.62 393.40 186.71 C394.40 186.79 395.40 186.89 396.40 187.00 C397.40 187.12 398.40 187.25 399.40 187.41 C400.40 187.56 401.40 187.73 402.40 187.91 C403.40 188.10 404.40 188.31 405.40 188.53 C406.40 188.75 407.40 188.98 408.40 189.23 C409.40 189.48 410.40 189.74 411.40 190.02 C412.40 190.29 413.40 190.58 414.40 190.88 C415.40 191.19 416.40 191.51 417.40 191.84 C418.40 192.17 419.40 192.52 420.40 192.87 C421.40 193.22 422.40 193.59 423.40 193.95 C424.40 194.31 425.40 194.67 426.40 195.03 C427.40 195.38 428.40 195.73 429.40 196.08 C430.40 196.43 431.40 196.77 432.40 197.10 C433.40 197.44 434.40 197.78 435.40 198.11 C436.40 198.44 437.40 198.77 438.40 199.10 C439.40 199.43 440.40 199.75 441.40 200.08 C442.40 200.41 443.40 200.73 444.40 201.05 C445.40 201.38 446.40 201.70 447.40 202.02 C448.40 202.34 449.40 202.66 450.40 202.98 C451.40 203.30 452.40 203.62 453.40 203.94 C454.40 204.26 455.40 204.58 456.40 204.90 C457.40 205.22 458.40 205.54 459.40 205.87 C460.40 206.19 461.40 206.52 462.40 206.83 C463.40 207.15 464.40 207.48 465.40 207.77 C466.40 208.06 467.40 208.35 468.40 208.60 C469.40 208.85 470.40 209.05 471.40 209.26 C472.40 209.46 473.40 209.62 474.40 209.84 C475.40 210.05 476.40 210.28 477.40 210.54 C478.40 210.81 479.40 211.11 480.40 211.43 C481.40 211.74 482.40 212.09 483.40 212.43 C484.40 212.77 485.40 213.13 486.40 213.48 C487.40 213.84 488.40 214.19 489.40 214.56 C490.40 214.92 491.40 215.29 492.40 215.66 C493.40 216.03 494.40 216.41 495.40 216.80 C496.40 217.18 497.40 217.57 498.40 217.97 C499.40 218.36 500.40 218.76 501.40 219.16 C502.40 219.57 503.40 219.97 504.40 220.37 C505.40 220.78 506.40 221.19 507.40 221.59 C508.40 222.00 509.40 222.41 510.40 222.81 C511.40 223.22 512.40 223.62 513.40 224.01 C514.40 224.40 515.40 224.79 516.40 225.16 C517.40 225.52 518.40 225.88 519.40 226.22 C520.40 226.55 521.40 226.87 522.40 227.17 C523.40 227.48 524.40 227.76 525.40 228.03 C526.40 228.31 527.40 228.56 528.40 228.82 C529.40 229.08 530.40 229.33 531.40 229.59 C532.40 229.85 533.40 230.11 534.40 230.38 C535.40 230.64 536.40 230.92 537.40 231.20 C538.40 231.49 539.40 231.78 540.40 232.07 C541.40 232.37 542.40 232.67 543.40 232.97 C544.40 233.26 545.40 233.57 546.40 233.86 C547.40 234.16 548.40 234.46 549.40 234.75 C550.40 235.04 551.40 235.32 552.40 235.61 C553.40 235.89 554.40 236.16 555.40 236.44 C556.40 236.71 557.40 236.98 558.40 237.24 C559.40 237.51 560.40 237.77 561.40 238.03 C562.40 238.29 563.40 238.54 564.40 238.79 C565.40 239.05 566.40 239.30 567.40 239.54 C568.40 239.78 569.40 240.02 570.40 240.25 C571.40 240.49 572.40 240.71 573.40 240.93 C574.40 241.15 575.40 241.36 576.40 241.57 C577.40 241.77 578.40 241.97 579.40 242.16 C580.40 242.35 581.40 242.53 582.40 242.71 C583.40 242.89 584.40 243.06 585.40 243.23 C586.40 243.40 587.40 243.56 588.40 243.72 C589.40 243.88 590.40 244.04 591.40 244.19 C592.40 244.34 593.40 244.49 594.40 244.64 C595.40 244.78 596.40 244.93 597.40 245.07 C598.40 245.21 599.40 245.35 600.40 245.48 C601.40 245.61 602.40 245.74 603.40 245.86 C604.40 245.99 605.40 246.11 606.40 246.23 C607.40 246.35 608.40 246.46 609.40 246.58 C610.40 246.69 611.40 246.80 612.40 246.91 C613.40 247.02 614.40 247.13 615.40 247.24 C616.40 247.34 617.40 247.45 618.40 247.56 C619.40 247.66 620.40 247.77 621.40 247.88 C622.40 247.98 623.40 248.09 624.40 248.20 C625.40 248.30 626.40 248.41 627.40 248.52 C628.40 248.63 629.40 248.74 630.40 248.85 C631.40 248.97 632.40 249.08 633.40 249.20 C634.40 249.32 635.40 249.44 636.40 249.56 C637.40 249.68 638.40 249.80 639.40 249.92 C640.40 250.05 641.40 250.17 642.40 250.29 C643.40 250.41 644.40 250.53 645.40 250.66 C646.40 250.78 647.40 250.90 648.40 251.02 C649.40 251.15 650.40 251.27 651.40 251.40 C652.40 251.52 653.40 251.65 654.40 251.78 C655.40 251.91 656.40 252.04 657.40 252.17 C658.40 252.30 659.40 252.43 660.40 252.55 C661.40 252.67 662.40 252.79 663.40 252.91 C664.40 253.03 665.40 253.14 666.40 253.24 C667.40 253.35 668.40 253.45 669.40 253.55 C670.40 253.64 671.40 253.73 672.40 253.81 C673.40 253.88 674.40 253.95 675.40 254.00 C676.40 254.06 677.40 254.10 678.40 254.14 C679.40 254.18 680.40 254.20 681.40 254.23 C682.40 254.26 683.40 254.29 684.40 254.32 C685.40 254.34 686.40 254.37 687.40 254.39 C688.40 254.42 689.40 254.44 690.40 254.47 C691.40 254.49 692.40 254.52 693.40 254.54 C694.40 254.56 695.40 254.59 696.40 254.61 C697.40 254.63 698.40 254.65 699.40 254.66 C700.40 254.67 701.40 254.68 702.40 254.68 C703.40 254.68 704.40 254.67 705.40 254.68 C706.40 254.69 707.40 254.68 708.40 254.72 C709.40 254.76 710.40 254.81 711.40 254.92 C712.40 255.03 713.40 255.18 714.40 255.38 C715.40 255.58 716.40 255.85 717.40 256.13 C718.40 256.42 719.40 256.77 720.40 257.09 C721.40 257.41 722.57 257.79 723.40 258.03 C724.23 258.27 725.07 258.43 725.40 258.51" stroke="#A3A3A3"/>
<path d="M78.40 226.80 C78.90 226.75 80.40 226.63 81.40 226.52 C82.40 226.41 83.40 226.27 84.40 226.14 C85.40 226.00 86.40 225.86 87.40 225.71 C88.40 225.56 89.40 225.41 90.40 225.26 C91.40 225.11 92.40 224.95 93.40 224.81 C94.40 224.67 95.40 224.53 96.40 224.42 C97.40 224.32 98.40 224.23 99.40 224.18 C100.40 224.14 101.40 224.12 102.40 224.15 C103.40 224.17 104.40 224.23 105.40 224.32 C106.40 224.42 107.40 224.54 108.40 224.71 C109.40 224.87 110.40 225.07 111.40 225.31 C112.40 225.55 113.40 225.83 114.40 226.13 C115.40 226.43 116.40 226.76 117.40 227.09 C118.40 227.42 119.40 227.77 120.40 228.10 C121.40 228.43 122.40 228.76 123.40 229.07 C124.40 229.38 125.40 229.69 126.40 229.97 C127.40 230.25 128.40 230.52 129.40 230.75 C130.40 230.98 131.40 231.17 132.40 231.33 C133.40 231.48 134.40 231.60 135.40 231.68 C136.40 231.76 137.40 231.80 138.40 231.81 C139.40 231.82 140.40 231.81 141.40 231.76 C142.40 231.72 143.40 231.64 144.40 231.53 C145.40 231.41 146.40 231.25 147.40 231.06 C148.40 230.86 149.40 230.61 150.40 230.34 C151.40 230.08 152.40 229.76 153.40 229.46 C154.40 229.15 155.40 228.82 156.40 228.53 C157.40 228.23 158.40 227.94 159.40 227.69 C160.40 227.44 161.40 227.22 162.40 227.01 C163.40 226.80 164.40 226.63 165.40 226.45 C166.40 226.27 167.40 226.12 168.40 225.94 C169.40 225.76 170.40 225.59 171.40 225.39 C172.40 225.19 173.40 224.97 174.40 224.73 C175.40 224.49 176.40 224.22 177.40 223.94 C178.40 223.65 179.40 223.34 180.40 223.02 C181.40 222.70 182.40 222.35 183.40 222.02 C184.40 221.69 185.40 221.34 186.40 221.01 C187.40 220.68 188.40 220.35 189.40 220.03 C190.40 219.71 191.40 219.40 192.40 219.10 C193.40 218.80 194.40 218.50 195.40 218.21 C196.40 217.92 197.40 217.64 198.40 217.36 C199.40 217.08 200.40 216.81 201.40 216.55 C202.40 216.28 203.40 216.03 204.40 215.78 C205.40 215.53 206.40 215.29 207.40 215.06 C208.40 214.82 209.40 214.59 210.40 214.38 C211.40 214.16 212.40 213.95 213.40 213.74 C214.40 213.54 215.40 213.35 216.40 213.16 C217.40 212.98 218.40 212.80 219.40 212.64 C220.40 212.47 221.40 212.31 222.40 212.17 C223.40 212.02 224.40 211.88 225.40 211.75 C226.40 211.63 227.40 211.51 228.40 211.40 C229.40 211.29 230.40 211.19 231.40 211.11 C232.40 211.03 233.40 210.95 234.40 210.90 C235.40 210.84 236.40 210.80 237.40 210.77 C238.40 210.74 239.40 210.73 240.40 210.73 C241.40 210.72 242.40 210.73 243.40 210.74 C244.40 210.74 245.40 210.76 246.40 210.76 C247.40 210.76 248.40 210.76 249.40 210.75 C250.40 210.74 251.40 210.72 252.40 210.69 C253.40 210.66 254.40 210.62 255.40 210.59 C256.40 210.56 257.40 210.53 258.40 210.51 C259.40 210.50 260.40 210.50 261.40 210.51 C262.40 210.53 263.40 210.56 264.40 210.60 C265.40 210.65 266.40 210.71 267.40 210.77 C268.40 210.84 269.40 210.91 270.40 210.99 C271.40 211.07 272.40 211.15 273.40 211.24 C274.40 211.32 275.40 211.41 276.40 211.50 C277.40 211.59 278.40 211.68 279.40 211.77 C280.40 211.86 281.40 211.95 282.40 212.04 C283.40 212.13 284.40 212.21 285.40 212.30 C286.40 212.39 287.40 212.48 288.40 212.56 C289.40 212.65 290.40 212.74 291.40 212.82 C292.40 212.91 293.40 212.99 294.40 213.07 C295.40 213.15 296.40 213.23 297.40 213.30 C298.40 213.37 299.40 213.44 300.40 213.50 C301.40 213.56 302.40 213.61 303.40 213.66 C304.40 213.71 305.40 213.75 306.40 213.79 C307.40 213.84 308.40 213.87 309.40 213.92 C310.40 213.96 311.40 214.00 312.40 214.04 C313.40 214.08 314.40 214.13 315.40 214.18 C316.40 214.23 317.40 214.28 318.40 214.34 C319.40 214.39 320.40 214.45 321.40 214.51 C322.40 214.57 323.40 214.63 324.40 214.69 C325.40 214.75 326.40 214.82 327.40 214.88 C328.40 214.95 329.40 215.01 330.40 215.08 C331.40 215.14 332.40 215.21 333.40 215.28 C334.40 215.35 335.40 215.42 336.40 215.49 C337.40 215.56 338.40 215.63 339.40 215.70 C340.40 215.77 341.40 215.84 342.40 215.91 C343.40 215.98 344.40 216.04 345.40 216.10 C346.40 216.16 347.40 216.22 348.40 216.26 C349.40 216.31 350.40 216.35 351.40 216.38 C352.40 216.42 353.40 216.44 354.40 216.47 C355.40 216.49 356.40 216.51 357.40 216.54 C358.40 216.56 359.40 216.59 360.40 216.61 C361.40 216.64 362.40 216.67 363.40 216.70 C364.40 216.73 365.40 216.76 366.40 216.80 C367.40 216.83 368.40 216.87 369.40 216.93 C370.40 216.98 371.40 217.04 372.40 217.12 C373.40 217.20 374.40 217.29 375.40 217.41 C376.40 217.52 377.40 217.65 378.40 217.81 C379.40 217.96 380.40 218.13 381.40 218.31 C382.40 218.49 383.40 218.70 384.40 218.90 C385.40 219.10 386.40 219.32 387.40 219.53 C388.40 219.75 389.40 219.97 390.40 220.19 C391.40 220.40 392.40 220.62 393.40 220.84 C394.40 221.06 395.40 221.29 396.40 221.51 C397.40 221.73 398.40 221.96 399.40 222.19 C400.40 222.41 401.40 222.64 402.40 222.87 C403.40 223.09 404.40 223.31 405.40 223.53 C406.40 223.75 407.40 223.96 408.40 224.17 C409.40 224.37 410.40 224.57 411.40 224.76 C412.40 224.96 413.40 225.14 414.40 225.32 C415.40 225.50 416.40 225.68 417.40 225.85 C418.40 226.02 419.40 226.19 420.40 226.36 C421.40 226.53 422.40 226.70 423.40 226.86 C424.40 227.03 425.40 227.19 426.40 227.36 C427.40 227.52 428.40 227.69 429.40 227.85 C430.40 228.02 431.40 228.19 432.40 228.36 C433.40 228.53 434.40 228.70 435.40 228.87 C436.40 229.05 437.40 229.23 438.40 229.41 C439.40 229.59 440.40 229.78 441.40 229.97 C442.40 230.17 443.40 230.37 444.40 230.58 C445.40 230.79 446.40 231.01 447.40 231.24 C448.40 231.46 449.40 231.70 450.40 231.94 C451.40 232.18 452.40 232.42 453.40 232.68 C454.40 232.93 455.40 233.19 456.40 233.46 C457.40 233.73 458.40 234.00 459.40 234.28 C460.40 234.56 461.40 234.85 462.40 235.13 C463.40 235.41 464.40 235.69 465.40 235.96 C466.40 236.23 467.40 236.49 468.40 236.74 C469.40 236.99 470.40 237.22 471.40 237.45 C472.40 237.67 473.40 237.88 474.40 238.09 C475.40 238.29 476.40 238.49 477.40 238.69 C478.40 238.89 479.40 239.08 480.40 239.28 C481.40 239.47 482.40 239.67 483.40 239.86 C484.40 240.06 485.40 240.25 486.40 240.45 C487.40 240.64 488.40 240.83 489.40 241.02 C490.40 241.22 491.40 241.41 492.40 241.59 C493.40 241.78 494.40 241.97 495.40 242.15 C496.40 242.34 497.40 242.52 498.40 242.70 C499.40 242.88 500.40 243.06 501.40 243.24 C502.40 243.41 503.40 243.58 504.40 243.76 C505.40 243.93 506.40 244.09 507.40 244.26 C508.40 244.43 509.40 244.59 510.40 244.76 C511.40 244.92 512.40 245.08 513.40 245.25 C514.40 245.41 515.40 245.57 516.40 245.73 C517.40 245.89 518.40 246.04 519.40 246.20 C520.40 246.36 521.40 246.52 522.40 246.67 C523.40 246.83 524.40 246.99 525.40 247.14 C526.40 247.29 527.40 247.44 528.40 247.59 C529.40 247.74 530.40 247.89 531.40 248.03 C532.40 248.18 533.40 248.32 534.40 248.45 C535.40 248.59 536.40 248.72 537.40 248.85 C538.40 248.98 539.40 249.11 540.40 249.23 C541.40 249.36 542.40 249.47 543.40 249.59 C544.40 249.71 545.40 249.82 546.40 249.94 C547.40 250.05 548.40 250.16 549.40 250.28 C550.40 250.39 551.40 250.50 552.40 250.61 C553.40 250.72 554.40 250.83 555.40 250.94 C556.40 251.05 557.40 251.16 558.40 251.27 C559.40 251.38 560.40 251.49 561.40 251.59 C562.40 251.70 563.40 251.80 564.40 251.90 C565.40 252.00 566.40 252.09 567.40 252.18 C568.40 252.26 569.40 252.34 570.40 252.42 C571.40 252.49 572.40 252.55 573.40 252.62 C574.40 252.69 575.40 252.75 576.40 252.84 C577.40 252.92 578.40 253.01 579.40 253.13 C580.40 253.24 581.40 253.38 582.40 253.53 C583.40 253.68 584.40 253.85 585.40 254.02 C586.40 254.19 587.40 254.37 588.40 254.53 C589.40 254.69 590.40 254.85 591.40 254.98 C592.40 255.11 593.40 255.22 594.40 255.31 C595.40 255.40 596.40 255.47 597.40 255.52 C598.40 255.57 599.40 255.59 600.40 255.61 C601.40 255.64 602.40 255.64 603.40 255.65 C604.40 255.66 605.40 255.67 606.40 255.68 C607.40 255.69 608.40 255.70 609.40 255.72 C610.40 255.73 611.40 255.76 612.40 255.78 C613.40 255.81 614.40 255.84 615.40 255.87 C616.40 255.90 617.40 255.93 618.40 255.97 C619.40 256.00 620.40 256.03 621.40 256.05 C622.40 256.08 623.40 256.11 624.40 256.13 C625.40 256.15 626.40 256.17 627.40 256.19 C628.40 256.21 629.40 256.23 630.40 256.24 C631.40 256.26 632.40 256.27 633.40 256.29 C634.40 256.30 635.40 256.31 636.40 256.33 C637.40 256.34 638.40 256.35 639.40 256.37 C640.40 256.38 641.40 256.39 642.40 256.40 C643.40 256.41 644.40 256.42 645.40 256.43 C646.40 256.45 647.40 256.46 648.40 256.47 C649.40 256.48 650.40 256.49 651.40 256.50 C652.40 256.51 653.40 256.52 654.40 256.53 C655.40 256.54 656.40 256.55 657.40 256.55 C658.40 256.56 659.40 256.57 660.40 256.58 C661.40 256.59 662.40 256.60 663.40 256.61 C664.40 256.62 665.40 256.62 666.40 256.63 C667.40 256.64 668.40 256.65 669.40 256.66 C670.40 256.66 671.40 256.67 672.40 256.68 C673.40 256.69 674.40 256.69 675.40 256.70 C676.40 256.71 677.40 256.71 678.40 256.72 C679.40 256.73 680.40 256.73 681.40 256.74 C682.40 256.74 683.40 256.75 684.40 256.76 C685.40 256.76 686.40 256.77 687.40 256.77 C688.40 256.77 689.40 256.78 690.40 256.78 C691.40 256.79 692.40 256.79 693.40 256.79 C694.40 256.79 695.40 256.79 696.40 256.78 C697.40 256.77 698.40 256.76 699.40 256.74 C700.40 256.72 701.40 256.69 702.40 256.65 C703.40 256.62 704.40 256.57 705.40 256.54 C706.40 256.51 707.40 256.47 708.40 256.48 C709.40 256.49 710.40 256.51 711.40 256.60 C712.40 256.68 713.40 256.81 714.40 257.01 C715.40 257.21 716.40 257.48 717.40 257.77 C718.40 258.07 719.40 258.46 720.40 258.80 C721.40 259.13 722.65 259.57 723.40 259.80 C724.15 260.04 724.65 260.13 724.90 260.19" stroke="#FFC000"/>
<path d="M78.40 229.36 C78.90 229.30 80.40 229.15 81.40 229.01 C82.40 228.88 83.40 228.71 84.40 228.55 C85.40 228.40 86.40 228.23 87.40 228.06 C88.40 227.90 89.40 227.73 90.40 227.57 C91.40 227.42 92.40 227.25 93.40 227.11 C94.40 226.97 95.40 226.83 96.40 226.72 C97.40 226.62 98.40 226.52 99.40 226.47 C100.40 226.42 101.40 226.39 102.40 226.40 C103.40 226.40 104.40 226.44 105.40 226.51 C106.40 226.57 107.40 226.66 108.40 226.78 C109.40 226.90 110.40 227.05 111.40 227.22 C112.40 227.39 113.40 227.59 114.40 227.80 C115.40 228.01 116.40 228.25 117.40 228.49 C118.40 228.73 119.40 228.98 120.40 229.22 C121.40 229.46 122.40 229.71 123.40 229.94 C124.40 230.17 125.40 230.41 126.40 230.62 C127.40 230.84 128.40 231.05 129.40 231.22 C130.40 231.39 131.40 231.54 132.40 231.65 C133.40 231.77 134.40 231.85 135.40 231.90 C136.40 231.96 137.40 231.98 138.40 232.00 C139.40 232.02 140.40 232.02 141.40 232.02 C142.40 232.02 143.40 232.02 144.40 231.99 C145.40 231.96 146.40 231.93 147.40 231.86 C148.40 231.78 149.40 231.67 150.40 231.52 C151.40 231.37 152.40 231.17 153.40 230.97 C154.40 230.77 155.40 230.52 156.40 230.32 C157.40 230.12 158.40 229.91 159.40 229.74 C160.40 229.57 161.40 229.43 162.40 229.30 C163.40 229.18 164.40 229.09 165.40 228.99 C166.40 228.88 167.40 228.81 168.40 228.70 C169.40 228.60 170.40 228.49 171.40 228.35 C172.40 228.22 173.40 228.06 174.40 227.87 C175.40 227.69 176.40 227.46 177.40 227.22 C178.40 226.98 179.40 226.70 180.40 226.41 C181.40 226.12 182.40 225.81 183.40 225.50 C184.40 225.18 185.40 224.86 186.40 224.55 C187.40 224.23 188.40 223.92 189.40 223.61 C190.40 223.30 191.40 223.00 192.40 222.70 C193.40 222.40 194.40 222.10 195.40 221.81 C196.40 221.51 197.40 221.22 198.40 220.94 C199.40 220.66 200.40 220.39 201.40 220.13 C202.40 219.88 203.40 219.63 204.40 219.40 C205.40 219.16 206.40 218.95 207.40 218.74 C208.40 218.54 209.40 218.34 210.40 218.16 C211.40 217.98 212.40 217.82 213.40 217.66 C214.40 217.51 215.40 217.37 216.40 217.25 C217.40 217.13 218.40 217.02 219.40 216.93 C220.40 216.84 221.40 216.77 222.40 216.72 C223.40 216.67 224.40 216.64 225.40 216.61 C226.40 216.59 227.40 216.58 228.40 216.58 C229.40 216.57 230.40 216.58 231.40 216.58 C232.40 216.58 233.40 216.59 234.40 216.59 C235.40 216.59 236.40 216.59 237.40 216.59 C238.40 216.59 239.40 216.59 240.40 216.59 C241.40 216.59 242.40 216.60 243.40 216.60 C244.40 216.60 245.40 216.60 246.40 216.59 C247.40 216.59 248.40 216.59 249.40 216.58 C250.40 216.57 251.40 216.55 252.40 216.53 C253.40 216.51 254.40 216.49 255.40 216.47 C256.40 216.46 257.40 216.44 258.40 216.44 C259.40 216.44 260.40 216.46 261.40 216.48 C262.40 216.51 263.40 216.55 264.40 216.60 C265.40 216.65 266.40 216.72 267.40 216.79 C268.40 216.86 269.40 216.94 270.40 217.02 C271.40 217.10 272.40 217.18 273.40 217.27 C274.40 217.36 275.40 217.45 276.40 217.54 C277.40 217.63 278.40 217.73 279.40 217.82 C280.40 217.91 281.40 218.01 282.40 218.11 C283.40 218.20 284.40 218.30 285.40 218.40 C286.40 218.49 287.40 218.59 288.40 218.69 C289.40 218.79 290.40 218.89 291.40 219.00 C292.40 219.11 293.40 219.22 294.40 219.33 C295.40 219.44 296.40 219.56 297.40 219.68 C298.40 219.80 299.40 219.93 300.40 220.05 C301.40 220.18 302.40 220.31 303.40 220.44 C304.40 220.57 305.40 220.70 306.40 220.83 C307.40 220.97 308.40 221.10 309.40 221.25 C310.40 221.40 311.40 221.55 312.40 221.71 C313.40 221.87 314.40 222.04 315.40 222.22 C316.40 222.40 317.40 222.60 318.40 222.80 C319.40 223.00 320.40 223.22 321.40 223.44 C322.40 223.66 323.40 223.89 324.40 224.13 C325.40 224.36 326.40 224.60 327.40 224.83 C328.40 225.07 329.40 225.31 330.40 225.55 C331.40 225.79 332.40 226.02 333.40 226.26 C334.40 226.50 335.40 226.73 336.40 226.97 C337.40 227.21 338.40 227.45 339.40 227.68 C340.40 227.92 341.40 228.15 342.40 228.38 C343.40 228.61 344.40 228.83 345.40 229.04 C346.40 229.25 347.40 229.45 348.40 229.63 C349.40 229.81 350.40 229.98 351.40 230.13 C352.40 230.28 353.40 230.42 354.40 230.54 C355.40 230.67 356.40 230.79 357.40 230.90 C358.40 231.02 359.40 231.13 360.40 231.24 C361.40 231.35 362.40 231.46 363.40 231.56 C364.40 231.67 365.40 231.77 366.40 231.88 C367.40 231.99 368.40 232.10 369.40 232.22 C370.40 232.34 371.40 232.46 372.40 232.60 C373.40 232.74 374.40 232.89 375.40 233.05 C376.40 233.22 377.40 233.40 378.40 233.60 C379.40 233.79 380.40 234.01 381.40 234.23 C382.40 234.45 383.40 234.68 384.40 234.92 C385.40 235.15 386.40 235.39 387.40 235.63 C388.40 235.87 389.40 236.11 390.40 236.34 C391.40 236.58 392.40 236.81 393.40 237.04 C394.40 237.27 395.40 237.50 396.40 237.72 C397.40 237.95 398.40 238.17 399.40 238.39 C400.40 238.62 401.40 238.84 402.40 239.05 C403.40 239.26 404.40 239.48 405.40 239.67 C406.40 239.87 407.40 240.07 408.40 240.25 C409.40 240.43 410.40 240.59 411.40 240.75 C412.40 240.91 413.40 241.05 414.40 241.19 C415.40 241.32 416.40 241.45 417.40 241.58 C418.40 241.71 419.40 241.83 420.40 241.95 C421.40 242.08 422.40 242.20 423.40 242.33 C424.40 242.45 425.40 242.57 426.40 242.70 C427.40 242.82 428.40 242.94 429.40 243.07 C430.40 243.19 431.40 243.31 432.40 243.44 C433.40 243.57 434.40 243.69 435.40 243.82 C436.40 243.95 437.40 244.08 438.40 244.21 C439.40 244.34 440.40 244.48 441.40 244.62 C442.40 244.76 443.40 244.91 444.40 245.06 C445.40 245.21 446.40 245.37 447.40 245.53 C448.40 245.70 449.40 245.87 450.40 246.04 C451.40 246.22 452.40 246.40 453.40 246.58 C454.40 246.76 455.40 246.95 456.40 247.15 C457.40 247.34 458.40 247.54 459.40 247.74 C460.40 247.94 461.40 248.15 462.40 248.34 C463.40 248.54 464.40 248.74 465.40 248.92 C466.40 249.10 467.40 249.27 468.40 249.42 C469.40 249.58 470.40 249.71 471.40 249.84 C472.40 249.96 473.40 250.06 474.40 250.17 C475.40 250.27 476.40 250.36 477.40 250.46 C478.40 250.55 479.40 250.65 480.40 250.74 C481.40 250.83 482.40 250.92 483.40 251.01 C484.40 251.10 485.40 251.19 486.40 251.28 C487.40 251.37 488.40 251.46 489.40 251.56 C490.40 251.65 491.40 251.74 492.40 251.84 C493.40 251.93 494.40 252.03 495.40 252.13 C496.40 252.23 497.40 252.34 498.40 252.44 C499.40 252.55 500.40 252.67 501.40 252.78 C502.40 252.90 503.40 253.02 504.40 253.15 C505.40 253.27 506.40 253.40 507.40 253.53 C508.40 253.66 509.40 253.80 510.40 253.93 C511.40 254.06 512.40 254.19 513.40 254.33 C514.40 254.46 515.40 254.59 516.40 254.71 C517.40 254.84 518.40 254.96 519.40 255.08 C520.40 255.20 521.40 255.32 522.40 255.43 C523.40 255.54 524.40 255.64 525.40 255.74 C526.40 255.84 527.40 255.93 528.40 256.02 C529.40 256.11 530.40 256.20 531.40 256.28 C532.40 256.36 533.40 256.44 534.40 256.51 C535.40 256.59 536.40 256.66 537.40 256.72 C538.40 256.78 539.40 256.83 540.40 256.88 C541.40 256.93 542.40 256.97 543.40 257.01 C544.40 257.05 545.40 257.08 546.40 257.11 C547.40 257.14 548.40 257.17 549.40 257.19 C550.40 257.22 551.40 257.24 552.40 257.26 C553.40 257.29 554.40 257.30 555.40 257.32 C556.40 257.34 557.40 257.36 558.40 257.37 C559.40 257.39 560.40 257.40 561.40 257.41 C562.40 257.43 563.40 257.44 564.40 257.45 C565.40 257.46 566.40 257.47 567.40 257.48 C568.40 257.49 569.40 257.50 570.40 257.50 C571.40 257.51 572.40 257.52 573.40 257.53 C574.40 257.53 575.40 257.54 576.40 257.55 C577.40 257.55 578.40 257.56 579.40 257.56 C580.40 257.57 581.40 257.58 582.40 257.58 C583.40 257.59 584.40 257.59 585.40 257.60 C586.40 257.60 587.40 257.61 588.40 257.61 C589.40 257.62 590.40 257.62 591.40 257.63 C592.40 257.63 593.40 257.64 594.40 257.64 C595.40 257.64 596.40 257.65 597.40 257.65 C598.40 257.66 599.40 257.66 600.40 257.67 C601.40 257.67 602.40 257.68 603.40 257.69 C604.40 257.69 605.40 257.70 606.40 257.70 C607.40 257.71 608.40 257.71 609.40 257.72 C610.40 257.73 611.40 257.73 612.40 257.74 C613.40 257.75 614.40 257.75 615.40 257.76 C616.40 257.77 617.40 257.78 618.40 257.79 C619.40 257.80 620.40 257.81 621.40 257.81 C622.40 257.82 623.40 257.83 624.40 257.84 C625.40 257.85 626.40 257.86 627.40 257.88 C628.40 257.89 629.40 257.90 630.40 257.91 C631.40 257.92 632.40 257.93 633.40 257.94 C634.40 257.95 635.40 257.96 636.40 257.97 C637.40 257.99 638.40 258.00 639.40 258.01 C640.40 258.02 641.40 258.03 642.40 258.05 C643.40 258.06 644.40 258.07 645.40 258.08 C646.40 258.09 647.40 258.11 648.40 258.12 C649.40 258.13 650.40 258.14 651.40 258.15 C652.40 258.17 653.40 258.18 654.40 258.19 C655.40 258.20 656.40 258.22 657.40 258.23 C658.40 258.24 659.40 258.25 660.40 258.27 C661.40 258.28 662.40 258.29 663.40 258.30 C664.40 258.32 665.40 258.33 666.40 258.34 C667.40 258.35 668.40 258.37 669.40 258.38 C670.40 258.39 671.40 258.40 672.40 258.41 C673.40 258.42 674.40 258.44 675.40 258.45 C676.40 258.46 677.40 258.47 678.40 258.48 C679.40 258.49 680.40 258.50 681.40 258.50 C682.40 258.51 683.40 258.51 684.40 258.51 C685.40 258.52 686.40 258.51 687.40 258.51 C688.40 258.51 689.40 258.50 690.40 258.50 C691.40 258.49 692.40 258.48 693.40 258.47 C694.40 258.46 695.40 258.45 696.40 258.44 C697.40 258.43 698.40 258.42 699.40 258.41 C700.40 258.41 701.40 258.40 702.40 258.41 C703.40 258.41 704.40 258.41 705.40 258.43 C706.40 258.45 707.40 258.47 708.40 258.52 C709.40 258.56 710.40 258.61 711.40 258.71 C712.40 258.81 713.40 258.92 714.40 259.10 C715.40 259.28 716.40 259.50 717.40 259.79 C718.40 260.07 719.40 260.46 720.40 260.82 C721.40 261.19 722.65 261.71 723.40 261.98 C724.15 262.26 724.65 262.39 724.90 262.47" stroke="#1A98D8"/>
<path d="M78.40 227.37 C78.90 227.34 80.40 227.26 81.40 227.19 C82.40 227.12 83.40 227.03 84.40 226.94 C85.40 226.84 86.40 226.74 87.40 226.63 C88.40 226.52 89.40 226.41 90.40 226.29 C91.40 226.17 92.40 226.03 93.40 225.91 C94.40 225.80 95.40 225.67 96.40 225.58 C97.40 225.49 98.40 225.40 99.40 225.36 C100.40 225.32 101.40 225.30 102.40 225.31 C103.40 225.33 104.40 225.37 105.40 225.45 C106.40 225.52 107.40 225.62 108.40 225.76 C109.40 225.90 110.40 226.07 111.40 226.26 C112.40 226.46 113.40 226.70 114.40 226.95 C115.40 227.21 116.40 227.49 117.40 227.78 C118.40 228.07 119.40 228.37 120.40 228.67 C121.40 228.97 122.40 229.28 123.40 229.57 C124.40 229.87 125.40 230.18 126.40 230.45 C127.40 230.73 128.40 231.00 129.40 231.23 C130.40 231.46 131.40 231.66 132.40 231.82 C133.40 231.97 134.40 232.09 135.40 232.17 C136.40 232.26 137.40 232.30 138.40 232.34 C139.40 232.37 140.40 232.39 141.40 232.40 C142.40 232.41 143.40 232.42 144.40 232.41 C145.40 232.40 146.40 232.38 147.40 232.32 C148.40 232.26 149.40 232.17 150.40 232.05 C151.40 231.93 152.40 231.75 153.40 231.58 C154.40 231.40 155.40 231.19 156.40 231.02 C157.40 230.84 158.40 230.66 159.40 230.51 C160.40 230.36 161.40 230.24 162.40 230.13 C163.40 230.02 164.40 229.94 165.40 229.85 C166.40 229.76 167.40 229.69 168.40 229.60 C169.40 229.51 170.40 229.42 171.40 229.30 C172.40 229.18 173.40 229.05 174.40 228.88 C175.40 228.72 176.40 228.53 177.40 228.32 C178.40 228.12 179.40 227.88 180.40 227.63 C181.40 227.39 182.40 227.12 183.40 226.85 C184.40 226.58 185.40 226.30 186.40 226.02 C187.40 225.73 188.40 225.45 189.40 225.16 C190.40 224.87 191.40 224.58 192.40 224.29 C193.40 224.00 194.40 223.70 195.40 223.40 C196.40 223.11 197.40 222.81 198.40 222.52 C199.40 222.23 200.40 221.94 201.40 221.68 C202.40 221.41 203.40 221.15 204.40 220.91 C205.40 220.67 206.40 220.44 207.40 220.23 C208.40 220.02 209.40 219.82 210.40 219.64 C211.40 219.45 212.40 219.28 213.40 219.12 C214.40 218.96 215.40 218.81 216.40 218.68 C217.40 218.55 218.40 218.43 219.40 218.33 C220.40 218.23 221.40 218.14 222.40 218.07 C223.40 218.00 224.40 217.94 225.40 217.90 C226.40 217.85 227.40 217.83 228.40 217.80 C229.40 217.77 230.40 217.76 231.40 217.74 C232.40 217.73 233.40 217.72 234.40 217.71 C235.40 217.70 236.40 217.69 237.40 217.69 C238.40 217.68 239.40 217.68 240.40 217.68 C241.40 217.68 242.40 217.69 243.40 217.70 C244.40 217.71 245.40 217.72 246.40 217.74 C247.40 217.75 248.40 217.77 249.40 217.80 C250.40 217.82 251.40 217.85 252.40 217.89 C253.40 217.92 254.40 217.96 255.40 218.00 C256.40 218.05 257.40 218.10 258.40 218.16 C259.40 218.22 260.40 218.29 261.40 218.36 C262.40 218.44 263.40 218.52 264.40 218.60 C265.40 218.69 266.40 218.78 267.40 218.87 C268.40 218.96 269.40 219.06 270.40 219.15 C271.40 219.25 272.40 219.35 273.40 219.45 C274.40 219.55 275.40 219.65 276.40 219.76 C277.40 219.86 278.40 219.97 279.40 220.08 C280.40 220.19 281.40 220.30 282.40 220.42 C283.40 220.54 284.40 220.66 285.40 220.79 C286.40 220.93 287.40 221.06 288.40 221.21 C289.40 221.36 290.40 221.52 291.40 221.69 C292.40 221.86 293.40 222.04 294.40 222.21 C295.40 222.39 296.40 222.57 297.40 222.73 C298.40 222.90 299.40 223.06 300.40 223.21 C301.40 223.35 302.40 223.49 303.40 223.62 C304.40 223.75 305.40 223.87 306.40 223.99 C307.40 224.11 308.40 224.22 309.40 224.35 C310.40 224.47 311.40 224.59 312.40 224.72 C313.40 224.85 314.40 224.99 315.40 225.13 C316.40 225.28 317.40 225.43 318.40 225.59 C319.40 225.75 320.40 225.92 321.40 226.09 C322.40 226.27 323.40 226.44 324.40 226.63 C325.40 226.81 326.40 226.99 327.40 227.18 C328.40 227.37 329.40 227.56 330.40 227.75 C331.40 227.94 332.40 228.13 333.40 228.33 C334.40 228.53 335.40 228.73 336.40 228.93 C337.40 229.14 338.40 229.34 339.40 229.55 C340.40 229.75 341.40 229.96 342.40 230.16 C343.40 230.35 344.40 230.55 345.40 230.72 C346.40 230.90 347.40 231.07 348.40 231.22 C349.40 231.36 350.40 231.49 351.40 231.61 C352.40 231.72 353.40 231.82 354.40 231.91 C355.40 232.01 356.40 232.09 357.40 232.18 C358.40 232.27 359.40 232.37 360.40 232.47 C361.40 232.57 362.40 232.68 363.40 232.79 C364.40 232.91 365.40 233.02 366.40 233.14 C367.40 233.26 368.40 233.39 369.40 233.52 C370.40 233.66 371.40 233.79 372.40 233.95 C373.40 234.10 374.40 234.26 375.40 234.44 C376.40 234.61 377.40 234.80 378.40 235.00 C379.40 235.20 380.40 235.42 381.40 235.64 C382.40 235.86 383.40 236.09 384.40 236.33 C385.40 236.56 386.40 236.80 387.40 237.04 C388.40 237.27 389.40 237.51 390.40 237.75 C391.40 237.98 392.40 238.21 393.40 238.44 C394.40 238.67 395.40 238.90 396.40 239.13 C397.40 239.35 398.40 239.58 399.40 239.80 C400.40 240.02 401.40 240.24 402.40 240.46 C403.40 240.67 404.40 240.88 405.40 241.08 C406.40 241.27 407.40 241.46 408.40 241.64 C409.40 241.81 410.40 241.97 411.40 242.12 C412.40 242.27 413.40 242.40 414.40 242.53 C415.40 242.66 416.40 242.77 417.40 242.89 C418.40 243.01 419.40 243.13 420.40 243.25 C421.40 243.37 422.40 243.49 423.40 243.61 C424.40 243.74 425.40 243.86 426.40 243.98 C427.40 244.10 428.40 244.22 429.40 244.34 C430.40 244.46 431.40 244.58 432.40 244.70 C433.40 244.83 434.40 244.95 435.40 245.08 C436.40 245.21 437.40 245.34 438.40 245.48 C439.40 245.62 440.40 245.76 441.40 245.90 C442.40 246.05 443.40 246.20 444.40 246.36 C445.40 246.52 446.40 246.69 447.40 246.86 C448.40 247.03 449.40 247.22 450.40 247.40 C451.40 247.58 452.40 247.77 453.40 247.96 C454.40 248.15 455.40 248.35 456.40 248.54 C457.40 248.74 458.40 248.93 459.40 249.13 C460.40 249.32 461.40 249.52 462.40 249.70 C463.40 249.89 464.40 250.08 465.40 250.25 C466.40 250.42 467.40 250.59 468.40 250.74 C469.40 250.89 470.40 251.02 471.40 251.14 C472.40 251.26 473.40 251.36 474.40 251.45 C475.40 251.55 476.40 251.62 477.40 251.71 C478.40 251.79 479.40 251.87 480.40 251.96 C481.40 252.04 482.40 252.13 483.40 252.22 C484.40 252.32 485.40 252.41 486.40 252.50 C487.40 252.60 488.40 252.69 489.40 252.78 C490.40 252.88 491.40 252.97 492.40 253.07 C493.40 253.16 494.40 253.26 495.40 253.36 C496.40 253.45 497.40 253.55 498.40 253.65 C499.40 253.75 500.40 253.85 501.40 253.95 C502.40 254.05 503.40 254.16 504.40 254.26 C505.40 254.37 506.40 254.47 507.40 254.58 C508.40 254.69 509.40 254.80 510.40 254.90 C511.40 255.01 512.40 255.12 513.40 255.22 C514.40 255.33 515.40 255.43 516.40 255.53 C517.40 255.64 518.40 255.74 519.40 255.83 C520.40 255.93 521.40 256.02 522.40 256.11 C523.40 256.20 524.40 256.29 525.40 256.37 C526.40 256.45 527.40 256.53 528.40 256.61 C529.40 256.69 530.40 256.77 531.40 256.84 C532.40 256.92 533.40 256.99 534.40 257.06 C535.40 257.13 536.40 257.19 537.40 257.25 C538.40 257.31 539.40 257.36 540.40 257.41 C541.40 257.46 542.40 257.50 543.40 257.54 C544.40 257.57 545.40 257.60 546.40 257.63 C547.40 257.66 548.40 257.69 549.40 257.71 C550.40 257.73 551.40 257.75 552.40 257.77 C553.40 257.79 554.40 257.80 555.40 257.82 C556.40 257.83 557.40 257.84 558.40 257.85 C559.40 257.86 560.40 257.87 561.40 257.88 C562.40 257.89 563.40 257.89 564.40 257.90 C565.40 257.90 566.40 257.91 567.40 257.91 C568.40 257.92 569.40 257.92 570.40 257.92 C571.40 257.93 572.40 257.93 573.40 257.93 C574.40 257.93 575.40 257.94 576.40 257.94 C577.40 257.94 578.40 257.94 579.40 257.94 C580.40 257.94 581.40 257.94 582.40 257.94 C583.40 257.94 584.40 257.94 585.40 257.94 C586.40 257.94 587.40 257.94 588.40 257.94 C589.40 257.94 590.40 257.94 591.40 257.94 C592.40 257.94 593.40 257.94 594.40 257.94 C595.40 257.94 596.40 257.94 597.40 257.95 C598.40 257.95 599.40 257.95 600.40 257.95 C601.40 257.95 602.40 257.95 603.40 257.95 C604.40 257.95 605.40 257.95 606.40 257.95 C607.40 257.95 608.40 257.96 609.40 257.96 C610.40 257.96 611.40 257.96 612.40 257.97 C613.40 257.97 614.40 257.97 615.40 257.98 C616.40 257.98 617.40 257.99 618.40 257.99 C619.40 258.00 620.40 258.00 621.40 258.01 C622.40 258.02 623.40 258.02 624.40 258.03 C625.40 258.04 626.40 258.05 627.40 258.06 C628.40 258.06 629.40 258.07 630.40 258.08 C631.40 258.09 632.40 258.10 633.40 258.11 C634.40 258.12 635.40 258.13 636.40 258.14 C637.40 258.15 638.40 258.16 639.40 258.17 C640.40 258.18 641.40 258.19 642.40 258.20 C643.40 258.21 644.40 258.22 645.40 258.23 C646.40 258.24 647.40 258.25 648.40 258.26 C649.40 258.27 650.40 258.28 651.40 258.29 C652.40 258.30 653.40 258.32 654.40 258.33 C655.40 258.34 656.40 258.35 657.40 258.36 C658.40 258.37 659.40 258.38 660.40 258.39 C661.40 258.41 662.40 258.42 663.40 258.43 C664.40 258.44 665.40 258.45 666.40 258.46 C667.40 258.47 668.40 258.48 669.40 258.49 C670.40 258.50 671.40 258.52 672.40 258.53 C673.40 258.54 674.40 258.55 675.40 258.56 C676.40 258.56 677.40 258.57 678.40 258.58 C679.40 258.59 680.40 258.60 681.40 258.60 C682.40 258.60 683.40 258.60 684.40 258.60 C685.40 258.60 686.40 258.60 687.40 258.59 C688.40 258.59 689.40 258.58 690.40 258.57 C691.40 258.56 692.40 258.55 693.40 258.53 C694.40 258.52 695.40 258.51 696.40 258.50 C697.40 258.48 698.40 258.47 699.40 258.46 C700.40 258.45 701.40 258.44 702.40 258.44 C703.40 258.44 704.40 258.44 705.40 258.46 C706.40 258.47 707.40 258.49 708.40 258.53 C709.40 258.58 710.40 258.62 711.40 258.72 C712.40 258.81 713.40 258.92 714.40 259.10 C715.40 259.27 716.40 259.50 717.40 259.78 C718.40 260.07 719.40 260.45 720.40 260.82 C721.40 261.18 722.65 261.70 723.40 261.98 C724.15 262.25 724.65 262.38 724.90 262.46" stroke="#3DAA35"/>
<path d="M78.40 226.37 C78.90 226.34 80.40 226.25 81.40 226.18 C82.40 226.11 83.40 226.01 84.40 225.92 C85.40 225.83 86.40 225.74 87.40 225.64 C88.40 225.54 89.40 225.44 90.40 225.33 C91.40 225.23 92.40 225.12 93.40 225.03 C94.40 224.93 95.40 224.84 96.40 224.77 C97.40 224.71 98.40 224.65 99.40 224.63 C100.40 224.61 101.40 224.61 102.40 224.65 C103.40 224.68 104.40 224.74 105.40 224.84 C106.40 224.93 107.40 225.06 108.40 225.22 C109.40 225.38 110.40 225.58 111.40 225.81 C112.40 226.04 113.40 226.32 114.40 226.61 C115.40 226.91 116.40 227.25 117.40 227.58 C118.40 227.91 119.40 228.27 120.40 228.62 C121.40 228.97 122.40 229.32 123.40 229.67 C124.40 230.02 125.40 230.37 126.40 230.69 C127.40 231.01 128.40 231.33 129.40 231.60 C130.40 231.87 131.40 232.10 132.40 232.29 C133.40 232.47 134.40 232.60 135.40 232.70 C136.40 232.80 137.40 232.85 138.40 232.90 C139.40 232.95 140.40 232.97 141.40 233.01 C142.40 233.04 143.40 233.07 144.40 233.09 C145.40 233.11 146.40 233.13 147.40 233.10 C148.40 233.08 149.40 233.02 150.40 232.92 C151.40 232.82 152.40 232.67 153.40 232.51 C154.40 232.35 155.40 232.15 156.40 231.98 C157.40 231.82 158.40 231.64 159.40 231.51 C160.40 231.37 161.40 231.25 162.40 231.15 C163.40 231.05 164.40 230.98 165.40 230.91 C166.40 230.83 167.40 230.77 168.40 230.69 C169.40 230.62 170.40 230.54 171.40 230.44 C172.40 230.34 173.40 230.22 174.40 230.08 C175.40 229.95 176.40 229.78 177.40 229.60 C178.40 229.43 179.40 229.22 180.40 229.01 C181.40 228.80 182.40 228.57 183.40 228.33 C184.40 228.09 185.40 227.85 186.40 227.60 C187.40 227.35 188.40 227.09 189.40 226.83 C190.40 226.57 191.40 226.30 192.40 226.02 C193.40 225.75 194.40 225.47 195.40 225.19 C196.40 224.90 197.40 224.62 198.40 224.34 C199.40 224.06 200.40 223.79 201.40 223.53 C202.40 223.28 203.40 223.03 204.40 222.80 C205.40 222.57 206.40 222.36 207.40 222.16 C208.40 221.96 209.40 221.78 210.40 221.61 C211.40 221.44 212.40 221.28 213.40 221.14 C214.40 221.00 215.40 220.88 216.40 220.78 C217.40 220.68 218.40 220.60 219.40 220.54 C220.40 220.49 221.40 220.46 222.40 220.45 C223.40 220.44 224.40 220.47 225.40 220.50 C226.40 220.53 227.40 220.58 228.40 220.63 C229.40 220.68 230.40 220.75 231.40 220.80 C232.40 220.85 233.40 220.90 234.40 220.94 C235.40 220.97 236.40 221.00 237.40 221.03 C238.40 221.05 239.40 221.07 240.40 221.08 C241.40 221.09 242.40 221.10 243.40 221.11 C244.40 221.11 245.40 221.11 246.40 221.10 C247.40 221.09 248.40 221.08 249.40 221.05 C250.40 221.02 251.40 220.98 252.40 220.93 C253.40 220.88 254.40 220.81 255.40 220.76 C256.40 220.71 257.40 220.65 258.40 220.63 C259.40 220.60 260.40 220.60 261.40 220.62 C262.40 220.65 263.40 220.70 264.40 220.78 C265.40 220.85 266.40 220.95 267.40 221.06 C268.40 221.17 269.40 221.30 270.40 221.43 C271.40 221.56 272.40 221.70 273.40 221.85 C274.40 221.99 275.40 222.14 276.40 222.29 C277.40 222.44 278.40 222.59 279.40 222.74 C280.40 222.89 281.40 223.05 282.40 223.19 C283.40 223.34 284.40 223.49 285.40 223.63 C286.40 223.77 287.40 223.91 288.40 224.05 C289.40 224.18 290.40 224.31 291.40 224.44 C292.40 224.57 293.40 224.70 294.40 224.83 C295.40 224.95 296.40 225.07 297.40 225.19 C298.40 225.30 299.40 225.41 300.40 225.52 C301.40 225.63 302.40 225.73 303.40 225.83 C304.40 225.92 305.40 226.02 306.40 226.11 C307.40 226.21 308.40 226.30 309.40 226.40 C310.40 226.50 311.40 226.59 312.40 226.70 C313.40 226.81 314.40 226.93 315.40 227.05 C316.40 227.17 317.40 227.30 318.40 227.44 C319.40 227.58 320.40 227.73 321.40 227.88 C322.40 228.03 323.40 228.19 324.40 228.35 C325.40 228.51 326.40 228.68 327.40 228.85 C328.40 229.02 329.40 229.20 330.40 229.38 C331.40 229.56 332.40 229.74 333.40 229.93 C334.40 230.12 335.40 230.31 336.40 230.51 C337.40 230.70 338.40 230.91 339.40 231.11 C340.40 231.31 341.40 231.52 342.40 231.72 C343.40 231.92 344.40 232.12 345.40 232.31 C346.40 232.50 347.40 232.68 348.40 232.86 C349.40 233.03 350.40 233.20 351.40 233.36 C352.40 233.51 353.40 233.66 354.40 233.79 C355.40 233.93 356.40 234.05 357.40 234.17 C358.40 234.29 359.40 234.40 360.40 234.50 C361.40 234.60 362.40 234.69 363.40 234.77 C364.40 234.86 365.40 234.93 366.40 235.01 C367.40 235.09 368.40 235.17 369.40 235.26 C370.40 235.36 371.40 235.45 372.40 235.57 C373.40 235.70 374.40 235.83 375.40 235.99 C376.40 236.15 377.40 236.34 378.40 236.54 C379.40 236.74 380.40 236.97 381.40 237.21 C382.40 237.45 383.40 237.71 384.40 237.96 C385.40 238.22 386.40 238.48 387.40 238.74 C388.40 239.00 389.40 239.26 390.40 239.50 C391.40 239.75 392.40 239.98 393.40 240.21 C394.40 240.44 395.40 240.66 396.40 240.88 C397.40 241.10 398.40 241.31 399.40 241.51 C400.40 241.72 401.40 241.92 402.40 242.12 C403.40 242.33 404.40 242.52 405.40 242.72 C406.40 242.91 407.40 243.11 408.40 243.30 C409.40 243.49 410.40 243.68 411.40 243.86 C412.40 244.05 413.40 244.22 414.40 244.39 C415.40 244.55 416.40 244.70 417.40 244.83 C418.40 244.96 419.40 245.08 420.40 245.19 C421.40 245.29 422.40 245.38 423.40 245.47 C424.40 245.55 425.40 245.62 426.40 245.69 C427.40 245.77 428.40 245.83 429.40 245.90 C430.40 245.97 431.40 246.03 432.40 246.10 C433.40 246.17 434.40 246.25 435.40 246.33 C436.40 246.41 437.40 246.49 438.40 246.59 C439.40 246.68 440.40 246.79 441.40 246.90 C442.40 247.02 443.40 247.15 444.40 247.29 C445.40 247.44 446.40 247.59 447.40 247.76 C448.40 247.93 449.40 248.12 450.40 248.31 C451.40 248.50 452.40 248.70 453.40 248.90 C454.40 249.11 455.40 249.32 456.40 249.53 C457.40 249.75 458.40 249.97 459.40 250.18 C460.40 250.39 461.40 250.61 462.40 250.81 C463.40 251.02 464.40 251.22 465.40 251.40 C466.40 251.58 467.40 251.76 468.40 251.91 C469.40 252.05 470.40 252.18 471.40 252.28 C472.40 252.38 473.40 252.45 474.40 252.52 C475.40 252.59 476.40 252.63 477.40 252.69 C478.40 252.75 479.40 252.80 480.40 252.87 C481.40 252.93 482.40 253.01 483.40 253.08 C484.40 253.16 485.40 253.24 486.40 253.33 C487.40 253.41 488.40 253.49 489.40 253.58 C490.40 253.66 491.40 253.75 492.40 253.83 C493.40 253.92 494.40 254.01 495.40 254.10 C496.40 254.18 497.40 254.27 498.40 254.36 C499.40 254.45 500.40 254.54 501.40 254.64 C502.40 254.73 503.40 254.83 504.40 254.92 C505.40 255.02 506.40 255.12 507.40 255.22 C508.40 255.32 509.40 255.42 510.40 255.52 C511.40 255.62 512.40 255.72 513.40 255.81 C514.40 255.91 515.40 256.01 516.40 256.10 C517.40 256.20 518.40 256.29 519.40 256.38 C520.40 256.47 521.40 256.56 522.40 256.64 C523.40 256.72 524.40 256.80 525.40 256.88 C526.40 256.96 527.40 257.03 528.40 257.10 C529.40 257.18 530.40 257.25 531.40 257.32 C532.40 257.39 533.40 257.46 534.40 257.52 C535.40 257.59 536.40 257.65 537.40 257.70 C538.40 257.76 539.40 257.81 540.40 257.85 C541.40 257.90 542.40 257.93 543.40 257.97 C544.40 258.00 545.40 258.03 546.40 258.06 C547.40 258.08 548.40 258.10 549.40 258.12 C550.40 258.14 551.40 258.16 552.40 258.17 C553.40 258.19 554.40 258.20 555.40 258.21 C556.40 258.22 557.40 258.23 558.40 258.24 C559.40 258.25 560.40 258.26 561.40 258.27 C562.40 258.27 563.40 258.28 564.40 258.28 C565.40 258.29 566.40 258.29 567.40 258.30 C568.40 258.30 569.40 258.30 570.40 258.31 C571.40 258.31 572.40 258.31 573.40 258.31 C574.40 258.31 575.40 258.32 576.40 258.32 C577.40 258.32 578.40 258.32 579.40 258.32 C580.40 258.32 581.40 258.32 582.40 258.32 C583.40 258.32 584.40 258.32 585.40 258.32 C586.40 258.32 587.40 258.31 588.40 258.31 C589.40 258.31 590.40 258.31 591.40 258.31 C592.40 258.31 593.40 258.30 594.40 258.30 C595.40 258.30 596.40 258.30 597.40 258.29 C598.40 258.29 599.40 258.29 600.40 258.29 C601.40 258.28 602.40 258.28 603.40 258.27 C604.40 258.27 605.40 258.27 606.40 258.26 C607.40 258.26 608.40 258.26 609.40 258.25 C610.40 258.25 611.40 258.24 612.40 258.24 C613.40 258.23 614.40 258.23 615.40 258.22 C616.40 258.22 617.40 258.21 618.40 258.21 C619.40 258.20 620.40 258.20 621.40 258.19 C622.40 258.18 623.40 258.18 624.40 258.17 C625.40 258.16 626.40 258.15 627.40 258.15 C628.40 258.14 629.40 258.13 630.40 258.12 C631.40 258.11 632.40 258.10 633.40 258.09 C634.40 258.08 635.40 258.07 636.40 258.06 C637.40 258.05 638.40 258.03 639.40 258.02 C640.40 258.01 641.40 258.00 642.40 257.99 C643.40 257.97 644.40 257.96 645.40 257.95 C646.40 257.94 647.40 257.92 648.40 257.91 C649.40 257.90 650.40 257.88 651.40 257.87 C652.40 257.86 653.40 257.84 654.40 257.83 C655.40 257.82 656.40 257.80 657.40 257.79 C658.40 257.77 659.40 257.76 660.40 257.75 C661.40 257.73 662.40 257.72 663.40 257.71 C664.40 257.69 665.40 257.68 666.40 257.67 C667.40 257.65 668.40 257.64 669.40 257.63 C670.40 257.61 671.40 257.60 672.40 257.59 C673.40 257.57 674.40 257.56 675.40 257.55 C676.40 257.54 677.40 257.53 678.40 257.51 C679.40 257.50 680.40 257.49 681.40 257.47 C682.40 257.46 683.40 257.44 684.40 257.42 C685.40 257.40 686.40 257.38 687.40 257.35 C688.40 257.33 689.40 257.30 690.40 257.27 C691.40 257.24 692.40 257.21 693.40 257.18 C694.40 257.15 695.40 257.11 696.40 257.08 C697.40 257.05 698.40 257.02 699.40 257.00 C700.40 256.97 701.40 256.95 702.40 256.94 C703.40 256.93 704.40 256.92 705.40 256.93 C706.40 256.94 707.40 256.95 708.40 257.00 C709.40 257.05 710.40 257.10 711.40 257.22 C712.40 257.33 713.40 257.46 714.40 257.69 C715.40 257.92 716.40 258.20 717.40 258.58 C718.40 258.95 719.40 259.46 720.40 259.94 C721.40 260.42 722.65 261.11 723.40 261.48 C724.15 261.84 724.65 262.02 724.90 262.12" stroke="#0A3A78"/>
<path d="M78.40 225.43 C78.90 225.41 80.40 225.36 81.40 225.33 C82.40 225.29 83.40 225.24 84.40 225.20 C85.40 225.15 86.40 225.11 87.40 225.07 C88.40 225.03 89.40 224.99 90.40 224.96 C91.40 224.93 92.40 224.90 93.40 224.89 C94.40 224.87 95.40 224.86 96.40 224.87 C97.40 224.89 98.40 224.91 99.40 224.96 C100.40 225.02 101.40 225.09 102.40 225.19 C103.40 225.29 104.40 225.41 105.40 225.56 C106.40 225.71 107.40 225.89 108.40 226.10 C109.40 226.31 110.40 226.55 111.40 226.83 C112.40 227.10 113.40 227.42 114.40 227.75 C115.40 228.08 116.40 228.45 117.40 228.80 C118.40 229.14 119.40 229.51 120.40 229.84 C121.40 230.18 122.40 230.50 123.40 230.80 C124.40 231.11 125.40 231.39 126.40 231.67 C127.40 231.94 128.40 232.20 129.40 232.44 C130.40 232.68 131.40 232.92 132.40 233.11 C133.40 233.30 134.40 233.47 135.40 233.59 C136.40 233.71 137.40 233.79 138.40 233.83 C139.40 233.87 140.40 233.85 141.40 233.84 C142.40 233.82 143.40 233.77 144.40 233.72 C145.40 233.67 146.40 233.62 147.40 233.56 C148.40 233.51 149.40 233.45 150.40 233.39 C151.40 233.34 152.40 233.28 153.40 233.22 C154.40 233.16 155.40 233.10 156.40 233.04 C157.40 232.97 158.40 232.90 159.40 232.83 C160.40 232.75 161.40 232.67 162.40 232.59 C163.40 232.51 164.40 232.42 165.40 232.33 C166.40 232.24 167.40 232.15 168.40 232.05 C169.40 231.95 170.40 231.84 171.40 231.72 C172.40 231.60 173.40 231.47 174.40 231.33 C175.40 231.19 176.40 231.03 177.40 230.87 C178.40 230.70 179.40 230.52 180.40 230.33 C181.40 230.14 182.40 229.94 183.40 229.74 C184.40 229.53 185.40 229.32 186.40 229.09 C187.40 228.87 188.40 228.64 189.40 228.39 C190.40 228.15 191.40 227.89 192.40 227.63 C193.40 227.36 194.40 227.08 195.40 226.80 C196.40 226.52 197.40 226.23 198.40 225.96 C199.40 225.69 200.40 225.42 201.40 225.19 C202.40 224.95 203.40 224.73 204.40 224.53 C205.40 224.34 206.40 224.18 207.40 224.04 C208.40 223.90 209.40 223.79 210.40 223.69 C211.40 223.59 212.40 223.51 213.40 223.44 C214.40 223.37 215.40 223.32 216.40 223.27 C217.40 223.22 218.40 223.18 219.40 223.15 C220.40 223.11 221.40 223.08 222.40 223.06 C223.40 223.04 224.40 223.03 225.40 223.02 C226.40 223.01 227.40 223.02 228.40 223.02 C229.40 223.03 230.40 223.04 231.40 223.05 C232.40 223.07 233.40 223.09 234.40 223.11 C235.40 223.13 236.40 223.16 237.40 223.20 C238.40 223.23 239.40 223.27 240.40 223.31 C241.40 223.35 242.40 223.40 243.40 223.43 C244.40 223.46 245.40 223.50 246.40 223.51 C247.40 223.52 248.40 223.52 249.40 223.49 C250.40 223.46 251.40 223.41 252.40 223.34 C253.40 223.27 254.40 223.16 255.40 223.07 C256.40 222.99 257.40 222.88 258.40 222.82 C259.40 222.76 260.40 222.71 261.40 222.70 C262.40 222.69 263.40 222.72 264.40 222.76 C265.40 222.81 266.40 222.89 267.40 222.98 C268.40 223.06 269.40 223.17 270.40 223.28 C271.40 223.39 272.40 223.52 273.40 223.64 C274.40 223.77 275.40 223.90 276.40 224.04 C277.40 224.17 278.40 224.32 279.40 224.46 C280.40 224.60 281.40 224.75 282.40 224.90 C283.40 225.05 284.40 225.20 285.40 225.36 C286.40 225.52 287.40 225.68 288.40 225.86 C289.40 226.04 290.40 226.23 291.40 226.42 C292.40 226.62 293.40 226.83 294.40 227.02 C295.40 227.22 296.40 227.41 297.40 227.59 C298.40 227.77 299.40 227.93 300.40 228.07 C301.40 228.22 302.40 228.34 303.40 228.46 C304.40 228.58 305.40 228.68 306.40 228.78 C307.40 228.88 308.40 228.96 309.40 229.06 C310.40 229.15 311.40 229.24 312.40 229.34 C313.40 229.44 314.40 229.54 315.40 229.65 C316.40 229.76 317.40 229.87 318.40 229.99 C319.40 230.11 320.40 230.24 321.40 230.37 C322.40 230.49 323.40 230.63 324.40 230.76 C325.40 230.90 326.40 231.04 327.40 231.18 C328.40 231.33 329.40 231.47 330.40 231.63 C331.40 231.78 332.40 231.95 333.40 232.11 C334.40 232.28 335.40 232.46 336.40 232.63 C337.40 232.81 338.40 233.00 339.40 233.19 C340.40 233.37 341.40 233.56 342.40 233.74 C343.40 233.92 344.40 234.10 345.40 234.27 C346.40 234.43 347.40 234.59 348.40 234.73 C349.40 234.87 350.40 235.00 351.40 235.12 C352.40 235.23 353.40 235.33 354.40 235.42 C355.40 235.52 356.40 235.60 357.40 235.68 C358.40 235.76 359.40 235.84 360.40 235.92 C361.40 236.00 362.40 236.08 363.40 236.15 C364.40 236.23 365.40 236.30 366.40 236.38 C367.40 236.46 368.40 236.53 369.40 236.63 C370.40 236.73 371.40 236.83 372.40 236.95 C373.40 237.08 374.40 237.22 375.40 237.39 C376.40 237.56 377.40 237.75 378.40 237.97 C379.40 238.18 380.40 238.42 381.40 238.67 C382.40 238.92 383.40 239.20 384.40 239.47 C385.40 239.74 386.40 240.02 387.40 240.29 C388.40 240.56 389.40 240.82 390.40 241.08 C391.40 241.33 392.40 241.57 393.40 241.80 C394.40 242.03 395.40 242.25 396.40 242.46 C397.40 242.68 398.40 242.88 399.40 243.08 C400.40 243.28 401.40 243.48 402.40 243.67 C403.40 243.86 404.40 244.05 405.40 244.24 C406.40 244.43 407.40 244.61 408.40 244.80 C409.40 244.98 410.40 245.17 411.40 245.34 C412.40 245.52 413.40 245.69 414.40 245.85 C415.40 246.01 416.40 246.17 417.40 246.30 C418.40 246.44 419.40 246.56 420.40 246.66 C421.40 246.77 422.40 246.85 423.40 246.92 C424.40 247.00 425.40 247.05 426.40 247.11 C427.40 247.17 428.40 247.22 429.40 247.27 C430.40 247.32 431.40 247.37 432.40 247.42 C433.40 247.48 434.40 247.53 435.40 247.59 C436.40 247.65 437.40 247.71 438.40 247.79 C439.40 247.86 440.40 247.95 441.40 248.06 C442.40 248.17 443.40 248.30 444.40 248.45 C445.40 248.61 446.40 248.79 447.40 248.99 C448.40 249.19 449.40 249.41 450.40 249.63 C451.40 249.86 452.40 250.09 453.40 250.32 C454.40 250.54 455.40 250.76 456.40 250.97 C457.40 251.18 458.40 251.39 459.40 251.58 C460.40 251.77 461.40 251.96 462.40 252.13 C463.40 252.30 464.40 252.47 465.40 252.62 C466.40 252.77 467.40 252.91 468.40 253.03 C469.40 253.16 470.40 253.27 471.40 253.36 C472.40 253.46 473.40 253.54 474.40 253.62 C475.40 253.70 476.40 253.76 477.40 253.83 C478.40 253.90 479.40 253.96 480.40 254.03 C481.40 254.10 482.40 254.17 483.40 254.23 C484.40 254.30 485.40 254.37 486.40 254.43 C487.40 254.50 488.40 254.56 489.40 254.63 C490.40 254.69 491.40 254.76 492.40 254.82 C493.40 254.89 494.40 254.95 495.40 255.01 C496.40 255.08 497.40 255.14 498.40 255.20 C499.40 255.27 500.40 255.33 501.40 255.40 C502.40 255.47 503.40 255.53 504.40 255.60 C505.40 255.67 506.40 255.74 507.40 255.82 C508.40 255.89 509.40 255.96 510.40 256.03 C511.40 256.11 512.40 256.18 513.40 256.26 C514.40 256.33 515.40 256.40 516.40 256.48 C517.40 256.55 518.40 256.63 519.40 256.70 C520.40 256.77 521.40 256.84 522.40 256.91 C523.40 256.98 524.40 257.05 525.40 257.12 C526.40 257.19 527.40 257.26 528.40 257.33 C529.40 257.39 530.40 257.46 531.40 257.52 C532.40 257.58 533.40 257.65 534.40 257.70 C535.40 257.76 536.40 257.82 537.40 257.88 C538.40 257.94 539.40 257.99 540.40 258.04 C541.40 258.09 542.40 258.14 543.40 258.19 C544.40 258.24 545.40 258.28 546.40 258.33 C547.40 258.37 548.40 258.41 549.40 258.44 C550.40 258.48 551.40 258.51 552.40 258.55 C553.40 258.58 554.40 258.60 555.40 258.63 C556.40 258.66 557.40 258.68 558.40 258.70 C559.40 258.72 560.40 258.74 561.40 258.76 C562.40 258.77 563.40 258.79 564.40 258.80 C565.40 258.82 566.40 258.83 567.40 258.84 C568.40 258.85 569.40 258.86 570.40 258.87 C571.40 258.87 572.40 258.88 573.40 258.89 C574.40 258.89 575.40 258.90 576.40 258.90 C577.40 258.90 578.40 258.90 579.40 258.90 C580.40 258.91 581.40 258.91 582.40 258.90 C583.40 258.90 584.40 258.90 585.40 258.90 C586.40 258.90 587.40 258.89 588.40 258.89 C589.40 258.89 590.40 258.88 591.40 258.88 C592.40 258.87 593.40 258.86 594.40 258.86 C595.40 258.85 596.40 258.84 597.40 258.84 C598.40 258.83 599.40 258.82 600.40 258.81 C601.40 258.80 602.40 258.79 603.40 258.78 C604.40 258.77 605.40 258.76 606.40 258.75 C607.40 258.74 608.40 258.73 609.40 258.72 C610.40 258.71 611.40 258.70 612.40 258.69 C613.40 258.68 614.40 258.67 615.40 258.65 C616.40 258.64 617.40 258.63 618.40 258.62 C619.40 258.60 620.40 258.59 621.40 258.58 C622.40 258.56 623.40 258.55 624.40 258.53 C625.40 258.52 626.40 258.50 627.40 258.48 C628.40 258.46 629.40 258.44 630.40 258.42 C631.40 258.40 632.40 258.38 633.40 258.35 C634.40 258.33 635.40 258.31 636.40 258.28 C637.40 258.26 638.40 258.23 639.40 258.21 C640.40 258.18 641.40 258.15 642.40 258.13 C643.40 258.10 644.40 258.07 645.40 258.04 C646.40 258.01 647.40 257.99 648.40 257.96 C649.40 257.93 650.40 257.90 651.40 257.87 C652.40 257.84 653.40 257.81 654.40 257.78 C655.40 257.75 656.40 257.72 657.40 257.69 C658.40 257.66 659.40 257.63 660.40 257.60 C661.40 257.57 662.40 257.54 663.40 257.51 C664.40 257.48 665.40 257.45 666.40 257.42 C667.40 257.40 668.40 257.37 669.40 257.34 C670.40 257.32 671.40 257.29 672.40 257.27 C673.40 257.24 674.40 257.22 675.40 257.20 C676.40 257.17 677.40 257.15 678.40 257.13 C679.40 257.12 680.40 257.10 681.40 257.08 C682.40 257.07 683.40 257.05 684.40 257.04 C685.40 257.02 686.40 257.01 687.40 256.99 C688.40 256.98 689.40 256.97 690.40 256.96 C691.40 256.95 692.40 256.94 693.40 256.93 C694.40 256.92 695.40 256.91 696.40 256.91 C697.40 256.90 698.40 256.89 699.40 256.89 C700.40 256.89 701.40 256.89 702.40 256.89 C703.40 256.90 704.40 256.90 705.40 256.91 C706.40 256.92 707.40 256.93 708.40 256.96 C709.40 257.00 710.40 257.01 711.40 257.11 C712.40 257.20 713.40 257.29 714.40 257.52 C715.40 257.76 716.40 258.09 717.40 258.51 C718.40 258.94 719.40 259.55 720.40 260.09 C721.40 260.63 722.65 261.35 723.40 261.73 C724.15 262.11 724.65 262.26 724.90 262.37" stroke="#595959"/>
</g>
<path d="M78.4 32.9 V264.4 H725.8" fill="none" stroke="#000" stroke-width="2"/>
<path d="M401.5 63 L399 221" stroke="#000" stroke-width="1.5" stroke-dasharray="5.5 4.5" fill="none"/>
<path d="M391.6 221.5 L405.3 221.5 L398.5 235 Z" fill="#000"/>
<line x1="35.9" y1="352.1" x2="61.0" y2="352.1" stroke="#B4440A" stroke-width="2.2" stroke-linecap="round"/>
<line x1="107.4" y1="352.1" x2="132.5" y2="352.1" stroke="#1366C4" stroke-width="2.2" stroke-linecap="round"/>
<line x1="177.3" y1="352.1" x2="204.6" y2="352.1" stroke="#F87A22" stroke-width="2.2" stroke-linecap="round"/>
<line x1="248.3" y1="352.1" x2="275.5" y2="352.1" stroke="#A3A3A3" stroke-width="2.2" stroke-linecap="round"/>
<line x1="320.4" y1="352.1" x2="346.2" y2="352.1" stroke="#FFC000" stroke-width="2.2" stroke-linecap="round"/>
<line x1="391.2" y1="352.1" x2="416.8" y2="352.1" stroke="#1A98D8" stroke-width="2.2" stroke-linecap="round"/>
<line x1="470.4" y1="352.1" x2="495.8" y2="352.1" stroke="#3DAA35" stroke-width="2.2" stroke-linecap="round"/>
<line x1="562.0" y1="352.1" x2="589.0" y2="352.1" stroke="#0A3A78" stroke-width="2.2" stroke-linecap="round"/>
<line x1="642.0" y1="352.1" x2="668.4" y2="352.1" stroke="#595959" stroke-width="2.2" stroke-linecap="round"/>
<clipPath id="cpb"><rect x="819.4" y="0" width="449.8" height="372"/></clipPath>
<line x1="817.8" y1="291.4" x2="1275" y2="291.4" stroke="#7F7F7F" stroke-width="3" stroke-dasharray="5.8 6.94" stroke-linecap="round" clip-path="url(#cpb)"/>
<path d="M863.4 290.5 L873.5 261.8 H880.3" fill="none" stroke="#000" stroke-width="1.5"/>
<g stroke="#555" stroke-width="1" fill="none" clip-path="url(#cpb)">
<path d="M818.70 68.70 V84.30 M816.00 68.70 H821.40 M816.00 84.30 H821.40"/>
<path d="M864.30 112.19 V126.19 M861.60 112.19 H867.00 M861.60 126.19 H867.00"/>
<path d="M909.00 162.13 V168.93 M906.30 162.13 H911.70 M906.30 168.93 H911.70"/>
<path d="M954.40 206.64 V215.44 M951.70 206.64 H957.10 M951.70 215.44 H957.10"/>
<path d="M998.90 246.88 V255.08 M996.20 246.88 H1001.60 M996.20 255.08 H1001.60"/>
<path d="M1043.50 269.20 V273.40 M1040.80 269.20 H1046.20 M1040.80 273.40 H1046.20"/>
<path d="M1099.50 274.58 V276.18 M1096.80 274.58 H1102.20 M1096.80 276.18 H1102.20"/>
<path d="M1156.00 276.10 V277.70 M1153.30 276.10 H1158.70 M1153.30 277.70 H1158.70"/>
<path d="M1268.00 278.19 V279.19 M1265.30 278.19 H1270.70 M1265.30 279.19 H1270.70"/>
</g>
<line x1="818.70" y1="76.10" x2="1031.20" y2="284.08" stroke="#1366C4" stroke-width="2" stroke-dasharray="0.01 4.299" stroke-linecap="round"/>
<path d="M818.70 76.50 C826.30 83.61 849.25 104.35 864.30 119.19 C879.35 134.02 893.98 150.22 909.00 165.53 C924.02 180.84 939.42 196.80 954.40 211.04 C969.38 225.28 984.05 240.94 998.90 250.98 C1013.75 261.03 1026.73 267.23 1043.50 271.30 C1060.27 275.37 1080.75 274.44 1099.50 275.38 C1118.25 276.31 1127.92 276.35 1156.00 276.90 C1184.08 277.45 1249.33 278.40 1268.00 278.69" fill="none" stroke="#1366C4" stroke-width="2" stroke-linejoin="round"/>
<path d="M818.7 34.0 V300.8 H1268.0" fill="none" stroke="#000" stroke-width="1.6"/>
<text x="14.20" y="25.80" font-size="17" font-weight="normal" fill="#000" text-anchor="start" style='font-family:"Liberation Sans",sans-serif' stroke="#000" stroke-width="0.3" textLength="14.66" lengthAdjust="spacingAndGlyphs">a)</text>
<text x="61.10" y="267.85" font-size="15.5" font-weight="normal" fill="#000" text-anchor="end" style='font-family:"Liberation Sans",sans-serif' stroke="#000" stroke-width="0.65" textLength="7.53" lengthAdjust="spacingAndGlyphs">0</text>
<text x="62.10" y="234.78" font-size="15.5" font-weight="normal" fill="#000" text-anchor="end" style='font-family:"Liberation Sans",sans-serif' stroke="#000" stroke-width="0.65" textLength="26.28" lengthAdjust="spacingAndGlyphs">100</text>
<text x="61.10" y="201.71" font-size="15.5" font-weight="normal" fill="#000" text-anchor="end" style='font-family:"Liberation Sans",sans-serif' stroke="#000" stroke-width="0.65" textLength="25.28" lengthAdjust="spacingAndGlyphs">200</text>
<text x="61.10" y="168.64" font-size="15.5" font-weight="normal" fill="#000" text-anchor="end" style='font-family:"Liberation Sans",sans-serif' stroke="#000" stroke-width="0.65" textLength="25.28" lengthAdjust="spacingAndGlyphs">300</text>
<text x="61.10" y="135.56" font-size="15.5" font-weight="normal" fill="#000" text-anchor="end" style='font-family:"Liberation Sans",sans-serif' stroke="#000" stroke-width="0.65" textLength="25.28" lengthAdjust="spacingAndGlyphs">400</text>
<text x="61.10" y="102.49" font-size="15.5" font-weight="normal" fill="#000" text-anchor="end" style='font-family:"Liberation Sans",sans-serif' stroke="#000" stroke-width="0.65" textLength="25.28" lengthAdjust="spacingAndGlyphs">500</text>
<text x="61.10" y="69.42" font-size="15.5" font-weight="normal" fill="#000" text-anchor="end" style='font-family:"Liberation Sans",sans-serif' stroke="#000" stroke-width="0.65" textLength="25.28" lengthAdjust="spacingAndGlyphs">600</text>
<text x="61.10" y="36.35" font-size="15.5" font-weight="normal" fill="#000" text-anchor="end" style='font-family:"Liberation Sans",sans-serif' stroke="#000" stroke-width="0.65" textLength="25.28" lengthAdjust="spacingAndGlyphs">700</text>
<text x="77.10" y="289.90" font-size="15.5" font-weight="normal" fill="#000" text-anchor="middle" style='font-family:"Liberation Sans",sans-serif' stroke="#000" stroke-width="0.65" textLength="25.28" lengthAdjust="spacingAndGlyphs">360</text>
<text x="192.83" y="289.90" font-size="15.5" font-weight="normal" fill="#000" text-anchor="middle" style='font-family:"Liberation Sans",sans-serif' stroke="#000" stroke-width="0.65" textLength="25.28" lengthAdjust="spacingAndGlyphs">410</text>
<text x="308.55" y="289.90" font-size="15.5" font-weight="normal" fill="#000" text-anchor="middle" style='font-family:"Liberation Sans",sans-serif' stroke="#000" stroke-width="0.65" textLength="25.27" lengthAdjust="spacingAndGlyphs">460</text>
<text x="424.27" y="289.90" font-size="15.5" font-weight="normal" fill="#000" text-anchor="middle" style='font-family:"Liberation Sans",sans-serif' stroke="#000" stroke-width="0.65" textLength="25.27" lengthAdjust="spacingAndGlyphs">510</text>
<text x="540.00" y="289.90" font-size="15.5" font-weight="normal" fill="#000" text-anchor="middle" style='font-family:"Liberation Sans",sans-serif' stroke="#000" stroke-width="0.65" textLength="25.27" lengthAdjust="spacingAndGlyphs">560</text>
<text x="655.72" y="289.90" font-size="15.5" font-weight="normal" fill="#000" text-anchor="middle" style='font-family:"Liberation Sans",sans-serif' stroke="#000" stroke-width="0.65" textLength="25.27" lengthAdjust="spacingAndGlyphs">610</text>
<text x="402.00" y="315.40" font-size="15.5" font-weight="normal" fill="#000" text-anchor="middle" style='font-family:"Liberation Sans",sans-serif' stroke="#000" stroke-width="0.8" textLength="120.55" lengthAdjust="spacingAndGlyphs">Wavelength (nm)</text>
<text transform="translate(26.70,148.55) rotate(-90)" font-size="15.5" font-weight="normal" fill="#000" text-anchor="middle" style='font-family:"Liberation Sans",sans-serif' stroke="#000" stroke-width="0.8" textLength="197.16" lengthAdjust="spacingAndGlyphs">Fluorescence Intensity (a.u.)</text>
<text x="420.00" y="182.10" font-size="17" font-weight="normal" fill="#000" text-anchor="start" style='font-family:"Liberation Sans",sans-serif' stroke="#000" stroke-width="0.7" textLength="131.12" lengthAdjust="spacingAndGlyphs">Increasing [Fe<tspan font-size="11" dy="-6">3+</tspan><tspan dy="6">]</tspan></text>
<text x="66.40" y="356.40" font-size="15.5" font-weight="normal" fill="#000" text-anchor="start" style='font-family:"Liberation Sans",sans-serif' stroke="#000" stroke-width="0.65" textLength="37.78" lengthAdjust="spacingAndGlyphs">0 μM</text>
<text x="137.00" y="356.40" font-size="15.5" font-weight="normal" fill="#000" text-anchor="start" style='font-family:"Liberation Sans",sans-serif' stroke="#000" stroke-width="0.65" textLength="36.78" lengthAdjust="spacingAndGlyphs">2 μM</text>
<text x="208.00" y="356.40" font-size="15.5" font-weight="normal" fill="#000" text-anchor="start" style='font-family:"Liberation Sans",sans-serif' stroke="#000" stroke-width="0.65" textLength="36.78" lengthAdjust="spacingAndGlyphs">4 μM</text>
<text x="277.80" y="356.40" font-size="15.5" font-weight="normal" fill="#000" text-anchor="start" style='font-family:"Liberation Sans",sans-serif' stroke="#000" stroke-width="0.65" textLength="38.18" lengthAdjust="spacingAndGlyphs">6 μM</text>
<text x="349.80" y="356.40" font-size="15.5" font-weight="normal" fill="#000" text-anchor="start" style='font-family:"Liberation Sans",sans-serif' stroke="#000" stroke-width="0.65" textLength="36.28" lengthAdjust="spacingAndGlyphs">8 μM</text>
<text x="420.00" y="356.40" font-size="15.5" font-weight="normal" fill="#000" text-anchor="start" style='font-family:"Liberation Sans",sans-serif' stroke="#000" stroke-width="0.65" textLength="45.79" lengthAdjust="spacingAndGlyphs">10 μM</text>
<text x="499.40" y="356.40" font-size="15.5" font-weight="normal" fill="#000" text-anchor="start" style='font-family:"Liberation Sans",sans-serif' stroke="#000" stroke-width="0.65" textLength="58.53" lengthAdjust="spacingAndGlyphs">12.5 μM</text>
<text x="591.80" y="356.40" font-size="15.5" font-weight="normal" fill="#000" text-anchor="start" style='font-family:"Liberation Sans",sans-serif' stroke="#000" stroke-width="0.65" textLength="45.99" lengthAdjust="spacingAndGlyphs">15 μM</text>
<text x="672.00" y="356.40" font-size="15.5" font-weight="normal" fill="#000" text-anchor="start" style='font-family:"Liberation Sans",sans-serif' stroke="#000" stroke-width="0.65" textLength="44.99" lengthAdjust="spacingAndGlyphs">20 μM</text>
<text x="745.30" y="25.90" font-size="17" font-weight="normal" fill="#000" text-anchor="start" style='font-family:"Liberation Sans",sans-serif' stroke="#000" stroke-width="0.3" textLength="18.86" lengthAdjust="spacingAndGlyphs">b)</text>
<text x="803.80" y="305.30" font-size="15.5" font-weight="normal" fill="#000" text-anchor="end" style='font-family:"Liberation Sans",sans-serif' stroke="#000" stroke-width="0.65" textLength="9.33" lengthAdjust="spacingAndGlyphs">0</text>
<text x="803.00" y="267.19" font-size="15.5" font-weight="normal" fill="#000" text-anchor="end" style='font-family:"Liberation Sans",sans-serif' stroke="#000" stroke-width="0.65" textLength="25.48" lengthAdjust="spacingAndGlyphs">100</text>
<text x="803.00" y="229.07" font-size="15.5" font-weight="normal" fill="#000" text-anchor="end" style='font-family:"Liberation Sans",sans-serif' stroke="#000" stroke-width="0.65" textLength="24.48" lengthAdjust="spacingAndGlyphs">200</text>
<text x="803.00" y="190.96" font-size="15.5" font-weight="normal" fill="#000" text-anchor="end" style='font-family:"Liberation Sans",sans-serif' stroke="#000" stroke-width="0.65" textLength="24.48" lengthAdjust="spacingAndGlyphs">300</text>
<text x="803.00" y="152.84" font-size="15.5" font-weight="normal" fill="#000" text-anchor="end" style='font-family:"Liberation Sans",sans-serif' stroke="#000" stroke-width="0.65" textLength="24.48" lengthAdjust="spacingAndGlyphs">400</text>
<text x="803.00" y="114.73" font-size="15.5" font-weight="normal" fill="#000" text-anchor="end" style='font-family:"Liberation Sans",sans-serif' stroke="#000" stroke-width="0.65" textLength="24.48" lengthAdjust="spacingAndGlyphs">500</text>
<text x="803.00" y="76.61" font-size="15.5" font-weight="normal" fill="#000" text-anchor="end" style='font-family:"Liberation Sans",sans-serif' stroke="#000" stroke-width="0.65" textLength="24.48" lengthAdjust="spacingAndGlyphs">600</text>
<text x="803.00" y="38.50" font-size="15.5" font-weight="normal" fill="#000" text-anchor="end" style='font-family:"Liberation Sans",sans-serif' stroke="#000" stroke-width="0.65" textLength="24.48" lengthAdjust="spacingAndGlyphs">700</text>
<text x="818.80" y="328.30" font-size="15.5" font-weight="normal" fill="#000" text-anchor="middle" style='font-family:"Liberation Sans",sans-serif' stroke="#000" stroke-width="0.65" textLength="8.43" lengthAdjust="spacingAndGlyphs">0</text>
<text x="931.42" y="328.30" font-size="15.5" font-weight="normal" fill="#000" text-anchor="middle" style='font-family:"Liberation Sans",sans-serif' stroke="#000" stroke-width="0.65" textLength="7.82" lengthAdjust="spacingAndGlyphs">5</text>
<text x="1042.85" y="328.30" font-size="15.5" font-weight="normal" fill="#000" text-anchor="middle" style='font-family:"Liberation Sans",sans-serif' stroke="#000" stroke-width="0.65" textLength="16.25" lengthAdjust="spacingAndGlyphs">10</text>
<text x="1155.07" y="328.30" font-size="15.5" font-weight="normal" fill="#000" text-anchor="middle" style='font-family:"Liberation Sans",sans-serif' stroke="#000" stroke-width="0.65" textLength="16.25" lengthAdjust="spacingAndGlyphs">15</text>
<text x="1268.00" y="328.30" font-size="15.5" font-weight="normal" fill="#000" text-anchor="middle" style='font-family:"Liberation Sans",sans-serif' stroke="#000" stroke-width="0.65" textLength="16.25" lengthAdjust="spacingAndGlyphs">20</text>
<text x="1043.60" y="353.70" font-size="15.5" font-weight="normal" fill="#000" text-anchor="middle" style='font-family:"Liberation Sans",sans-serif' stroke="#000" stroke-width="0.8" textLength="169.00" lengthAdjust="spacingAndGlyphs">Concentration Fe<tspan font-size="10" dy="-5">3+</tspan><tspan dy="5"> (μM)</tspan></text>
<text transform="translate(768.80,174.55) rotate(-90)" font-size="15.5" font-weight="normal" fill="#000" text-anchor="middle" style='font-family:"Liberation Sans",sans-serif' stroke="#000" stroke-width="0.8" textLength="271.01" lengthAdjust="spacingAndGlyphs">Fluorescence Intensity at 500 nm (a.u.)</text>
<text x="884.40" y="265.90" font-size="15.5" font-weight="normal" fill="#000" text-anchor="start" style='font-family:"Liberation Sans",sans-serif' stroke="#000" stroke-width="0.65" textLength="62.37" lengthAdjust="spacingAndGlyphs">HSA only</text>
<text x="997.30" y="161.70" font-size="15" font-weight="normal" fill="#000" text-anchor="middle" style='font-family:"Liberation Sans",sans-serif' stroke="#000" stroke-width="0.65" textLength="146.35" lengthAdjust="spacingAndGlyphs">y = -57.743x + 589.54</text>
<text x="996.85" y="183.50" font-size="15" font-weight="normal" fill="#000" text-anchor="middle" style='font-family:"Liberation Sans",sans-serif' stroke="#000" stroke-width="0.65" textLength="78.69" lengthAdjust="spacingAndGlyphs">R<tspan font-size="11" dy="-4">2</tspan><tspan dy="4"> = 0.9993</tspan></text>
<text x="1125.90" y="214.90" font-size="15" font-weight="normal" fill="#000" text-anchor="start" style='font-family:"Liberation Serif",serif' stroke="#000" stroke-width="0.55" textLength="29.32" lengthAdjust="spacingAndGlyphs">LOD</text>
<text x="1159.90" y="214.90" font-size="15" font-weight="normal" fill="#000" text-anchor="start" style='font-family:"Liberation Serif",serif' textLength="21.40" lengthAdjust="spacingAndGlyphs">(<tspan stroke="#000" stroke-width="0.3">2</tspan>)</text>
<text x="1184.90" y="214.90" font-size="15" font-weight="normal" fill="#000" text-anchor="start" style='font-family:"Liberation Serif",serif' textLength="13.07" lengthAdjust="spacingAndGlyphs">=</text>
<text x="1201.10" y="214.90" font-size="15" font-weight="normal" fill="#000" text-anchor="start" style='font-family:"Liberation Serif",serif' stroke="#000" stroke-width="0.55" textLength="12.75" lengthAdjust="spacingAndGlyphs">1.</text>
<text x="1217.10" y="214.90" font-size="15" font-weight="normal" fill="#000" text-anchor="start" style='font-family:"Liberation Serif",serif' stroke="#000" stroke-width="0.55" textLength="17.80" lengthAdjust="spacingAndGlyphs">12</text>
<text x="1238.50" y="214.90" font-size="15" font-weight="normal" fill="#000" text-anchor="start" style='font-family:"Liberation Serif",serif' textLength="21.92" lengthAdjust="spacingAndGlyphs">μ<tspan stroke="#000" stroke-width="0.55">M</tspan></text>
<text x="1047.10" y="244.90" font-size="15" font-weight="normal" fill="#000" text-anchor="start" style='font-family:"Liberation Serif",serif' textLength="38.62" lengthAdjust="spacingAndGlyphs"><tspan stroke="#000" stroke-width="0.3">K</tspan><tspan font-size="10.5" dy="2.6">a</tspan><tspan dy="-2.6">(<tspan stroke="#000" stroke-width="0.3">2</tspan>)</tspan></text>
<text x="1090.50" y="244.90" font-size="15" font-weight="normal" fill="#000" text-anchor="start" style='font-family:"Liberation Serif",serif' textLength="12.17" lengthAdjust="spacingAndGlyphs">=</text>
<text x="1106.90" y="244.90" font-size="15" font-weight="normal" fill="#000" text-anchor="start" style='font-family:"Liberation Serif",serif' textLength="18.65" lengthAdjust="spacingAndGlyphs">(<tspan stroke="#000" stroke-width="0.55">4.</tspan></text>
<text x="1129.50" y="244.90" font-size="15" font-weight="normal" fill="#000" text-anchor="start" style='font-family:"Liberation Serif",serif' stroke="#000" stroke-width="0.55" textLength="7.70" lengthAdjust="spacingAndGlyphs">0</text>
<text x="1140.50" y="244.90" font-size="15" font-weight="normal" fill="#000" text-anchor="start" style='font-family:"Liberation Serif",serif' textLength="12.83" lengthAdjust="spacingAndGlyphs">±</text>
<text x="1156.30" y="244.90" font-size="15" font-weight="normal" fill="#000" text-anchor="start" style='font-family:"Liberation Serif",serif' stroke="#000" stroke-width="0.55" textLength="12.55" lengthAdjust="spacingAndGlyphs">8.</text>
<text x="1170.90" y="244.90" font-size="15" font-weight="normal" fill="#000" text-anchor="start" style='font-family:"Liberation Serif",serif' textLength="16.20" lengthAdjust="spacingAndGlyphs"><tspan stroke="#000" stroke-width="0.55">1</tspan>)</text>
<text x="1190.70" y="246.50" font-size="15" font-weight="normal" fill="#000" text-anchor="start" style='font-family:"Liberation Serif",serif' textLength="7.90" lengthAdjust="spacingAndGlyphs">*</text>
<text x="1201.30" y="244.90" font-size="15" font-weight="normal" fill="#000" text-anchor="start" style='font-family:"Liberation Serif",serif' stroke="#000" stroke-width="0.55" textLength="25.25" lengthAdjust="spacingAndGlyphs">10<tspan font-size="10.5" dy="-6">7</tspan></text>
<text x="1231.30" y="244.90" font-size="15" font-weight="normal" fill="#000" text-anchor="start" style='font-family:"Liberation Serif",serif' stroke="#000" stroke-width="0.55" textLength="28.71" lengthAdjust="spacingAndGlyphs">M<tspan font-size="10.5" dy="-6">−1</tspan></text>
</svg></body></html>
